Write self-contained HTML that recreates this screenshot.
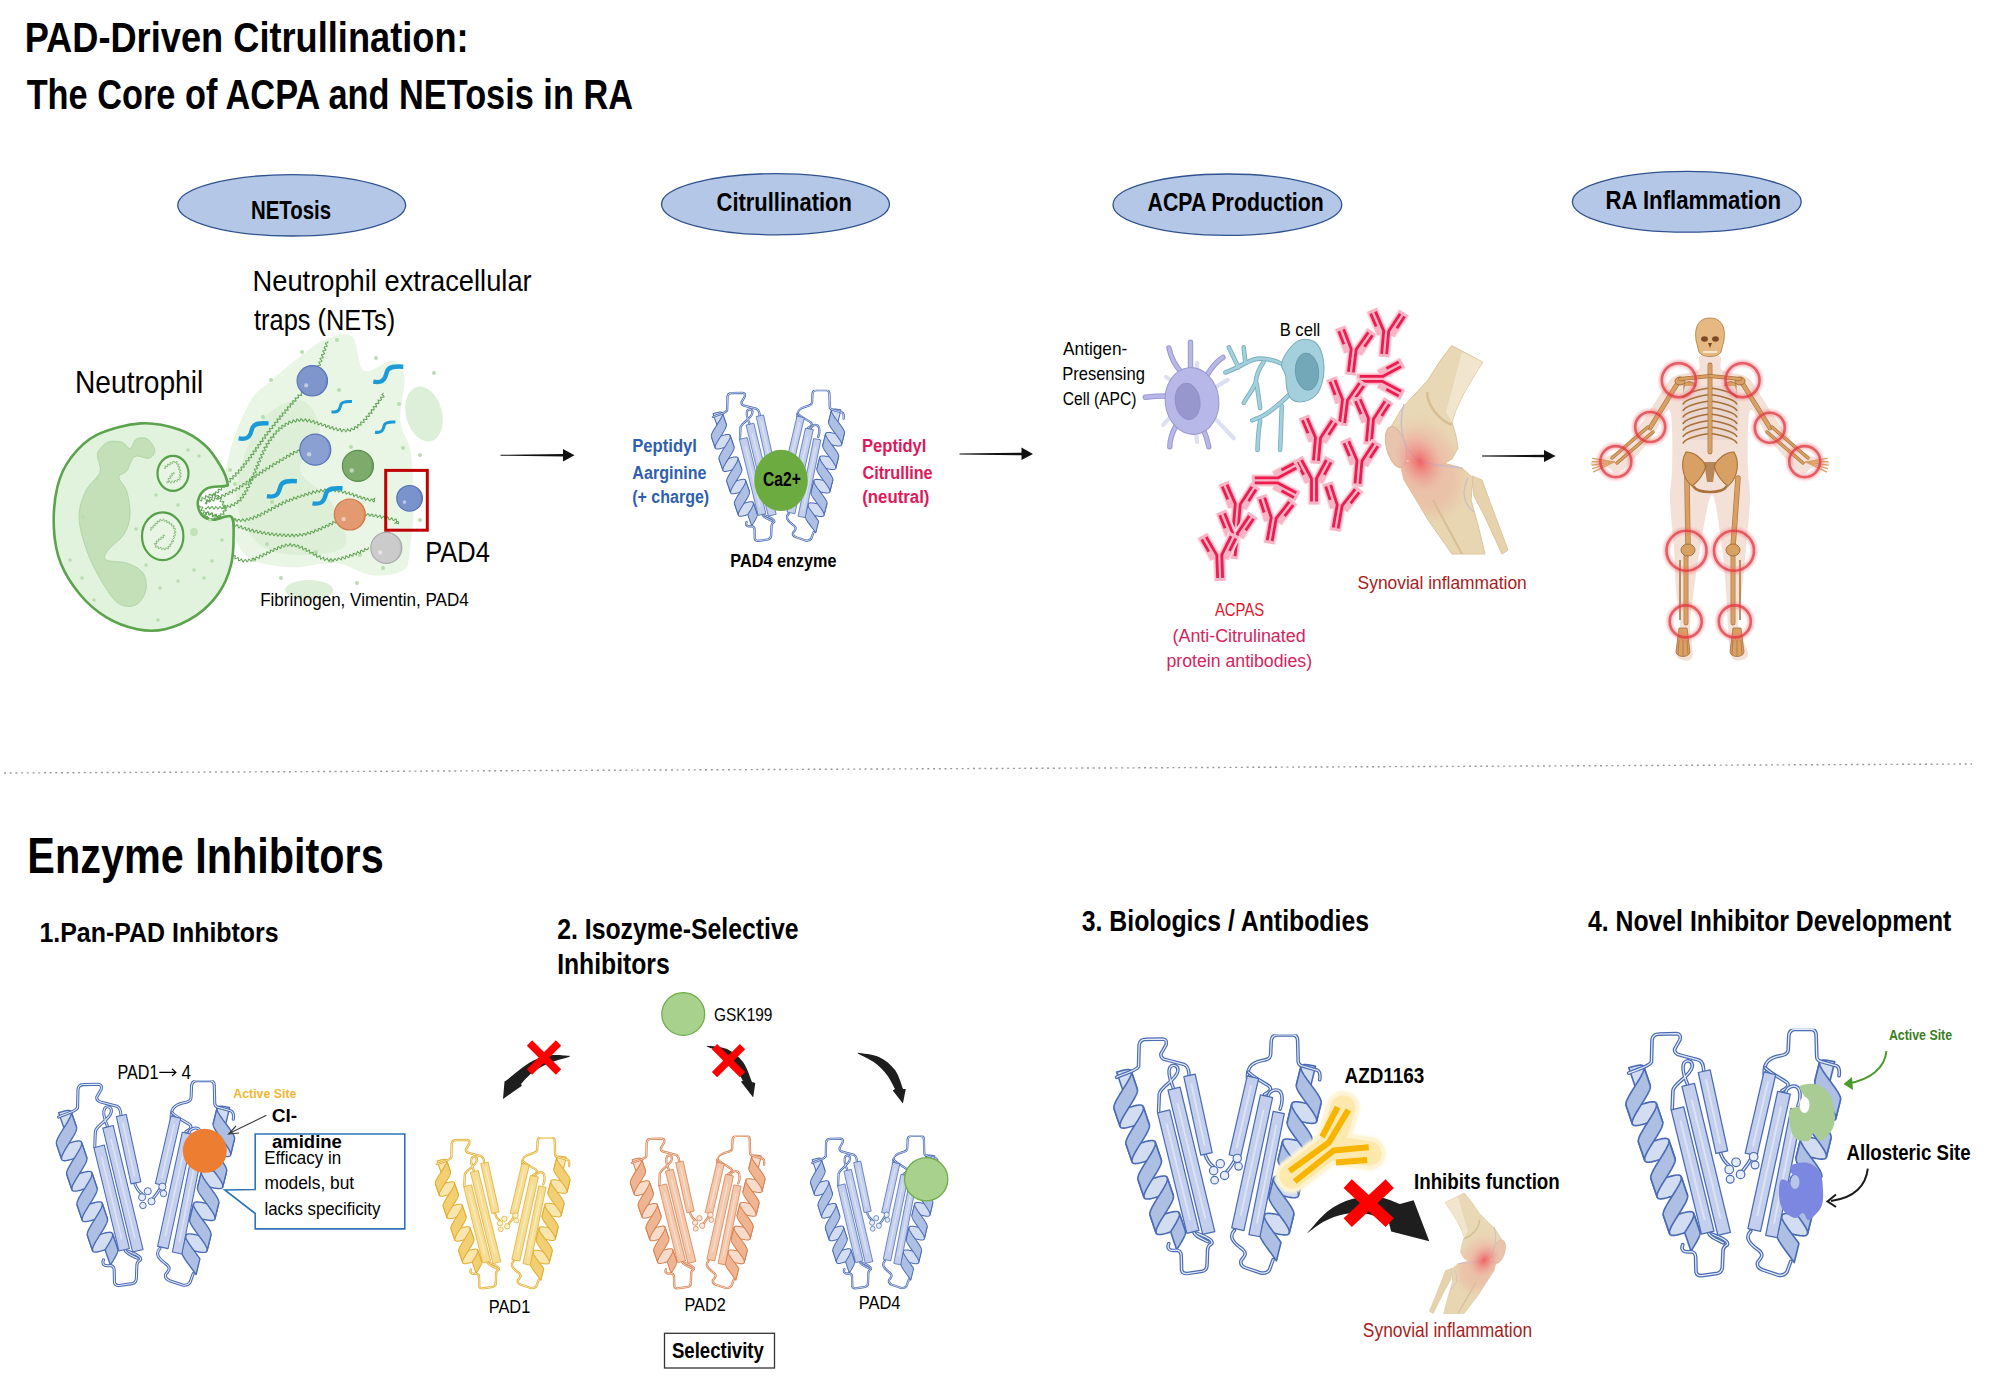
<!DOCTYPE html>
<html><head><meta charset="utf-8"><style>
html,body{margin:0;padding:0;background:#fff;width:2000px;height:1382px;overflow:hidden}
svg{display:block;font-family:"Liberation Sans",sans-serif}
</style></head><body>
<svg width="2000" height="1382" viewBox="0 0 2000 1382">
<ellipse cx="291.7" cy="205.3" rx="114" ry="30.7" fill="#b4c7e7" stroke="#2f528f" stroke-width="1.3"/>
<ellipse cx="775.5" cy="204.2" rx="114" ry="30.6" fill="#b4c7e7" stroke="#2f528f" stroke-width="1.3"/>
<ellipse cx="1227.4" cy="204.7" rx="114.4" ry="30.7" fill="#b4c7e7" stroke="#2f528f" stroke-width="1.3"/>
<ellipse cx="1686.8" cy="201.8" rx="114.4" ry="30.4" fill="#b4c7e7" stroke="#2f528f" stroke-width="1.3"/>
<path d="M500.5,454.85 L564,453.95 L564,456.55 L500.5,455.65 Z" fill="#111"/><path d="M563,449 L574.5,455.25 L563,461.5 Z" fill="#111"/>
<path d="M959.5,453.6 L1022.5,452.7 L1022.5,455.3 L959.5,454.4 Z" fill="#111"/><path d="M1021.5,447.5 L1033,454 L1021.5,460 Z" fill="#111"/>
<path d="M1482,455.6 L1545,454.7 L1545,457.3 L1482,456.4 Z" fill="#111"/><path d="M1544,450 L1555.5,456 L1544,462 Z" fill="#111"/>
<line x1="4" y1="773" x2="1972" y2="764" stroke="#9a9a9a" stroke-width="1.4" stroke-dasharray="2 3.7"/>
<path d="M230.3,449.7 C235.0,432.8 243.8,412.5 250.5,401.0 C257.2,389.5 263.4,387.6 270.8,380.8 C278.2,374.1 286.2,367.2 295.0,360.5 C303.8,353.8 314.0,344.4 323.5,340.3 C333.0,336.2 345.1,331.1 351.8,336.2 C358.6,341.2 357.2,366.6 364.0,370.6 C370.8,374.7 385.6,359.5 392.3,360.5 C399.1,361.5 403.1,366.6 404.5,376.7 C405.9,386.8 399.4,408.8 400.4,421.3 C401.4,433.8 408.3,438.2 410.6,451.7 C412.9,465.2 414.0,487.1 414.0,502.3 C414.0,517.5 412.2,531.8 410.6,542.9 C409.0,554.0 410.9,563.8 404.5,569.2 C398.1,574.6 383.5,576.3 372.0,575.3 C360.5,574.3 349.1,564.5 335.6,563.1 C322.1,561.8 305.2,567.9 291.0,567.2 C276.8,566.5 260.3,564.8 250.5,559.0 C240.7,553.2 237.0,542.2 232.3,532.7 C227.6,523.2 222.5,516.1 222.2,502.3 C221.9,488.5 225.6,466.6 230.3,449.7 Z" fill="#e9f6e6"/>
<path d="M240.0,470.0 C244.0,455.0 252.0,431.7 262.0,420.0 C272.0,408.3 290.3,398.3 300.0,400.0 C309.7,401.7 320.0,418.3 320.0,430.0 C320.0,441.7 298.3,458.3 300.0,470.0 C301.7,481.7 322.5,487.5 330.0,500.0 C337.5,512.5 350.0,535.8 345.0,545.0 C340.0,554.2 314.2,555.0 300.0,555.0 C285.8,555.0 270.3,552.5 260.0,545.0 C249.7,537.5 241.3,522.5 238.0,510.0 C234.7,497.5 236.0,485.0 240.0,470.0 Z" fill="#d9eed3" opacity="0.8"/>
<ellipse cx="424" cy="414" rx="18" ry="28" fill="#ddefd8" transform="rotate(-15 424 414)"/>
<ellipse cx="309" cy="590" rx="24" ry="10" fill="#ddefd8"/>
<circle cx="271" cy="380" r="2" fill="#b9dcb0"/>
<circle cx="263" cy="417" r="2" fill="#b9dcb0"/>
<circle cx="235" cy="484" r="2" fill="#b9dcb0"/>
<circle cx="302" cy="352" r="2" fill="#b9dcb0"/>
<circle cx="337" cy="340" r="2" fill="#b9dcb0"/>
<circle cx="376" cy="358" r="2" fill="#b9dcb0"/>
<circle cx="434" cy="373" r="2" fill="#b9dcb0"/>
<circle cx="399" cy="404" r="2" fill="#b9dcb0"/>
<circle cx="403" cy="448" r="2" fill="#b9dcb0"/>
<circle cx="351" cy="447" r="2" fill="#b9dcb0"/>
<circle cx="339" cy="390" r="2" fill="#b9dcb0"/>
<circle cx="360" cy="555" r="2" fill="#b9dcb0"/>
<circle cx="267" cy="544" r="2" fill="#b9dcb0"/>
<circle cx="331" cy="561" r="2" fill="#b9dcb0"/>
<circle cx="281" cy="578" r="2" fill="#b9dcb0"/>
<circle cx="357" cy="583" r="2" fill="#b9dcb0"/>
<circle cx="316" cy="552" r="2" fill="#b9dcb0"/>
<circle cx="420" cy="455" r="2" fill="#b9dcb0"/>
<circle cx="230" cy="470" r="2" fill="#b9dcb0"/>
<circle cx="272" cy="502" r="2" fill="#b9dcb0"/>
<circle cx="254" cy="560" r="2" fill="#b9dcb0"/>
<circle cx="383" cy="568" r="2" fill="#b9dcb0"/>
<circle cx="420" cy="520" r="2" fill="#b9dcb0"/>
<circle cx="300" cy="597" r="2" fill="#b9dcb0"/>
<circle cx="235" cy="520" r="2" fill="#b9dcb0"/>
<path d="M205.0,503.0 L206.8,503.0 L206.2,500.1 L207.4,500.1 L209.2,500.7 L209.7,499.9 L209.2,497.9 L210.0,497.3 L212.2,498.1 L212.6,496.9 L212.2,494.7 L214.0,495.0 L215.7,495.1 L215.4,493.5 L215.2,492.0 L216.3,492.1 L218.1,492.8 L218.7,492.2 L218.2,490.3 L218.4,489.2 L220.1,489.7 L221.6,490.0 L221.5,488.6 L221.1,486.8 L222.2,486.7 L224.1,487.4 L224.6,486.6 L224.0,484.6 L224.6,483.8 L226.5,484.5 L227.6,484.3 L227.1,482.4 L227.1,481.1 L228.9,481.6 L230.4,481.8 L230.2,480.2 L229.8,478.5 L231.1,478.6 L233.0,479.1 L233.3,478.1 L232.6,476.2 L233.3,475.6 L235.2,476.2 L236.2,475.9 L235.7,474.1 L235.5,472.8 L237.0,473.0 L238.7,473.4 L238.9,472.4 L238.2,470.6 L238.5,469.8 L240.2,470.2 L241.6,470.3 L241.5,469.1 L240.8,467.4 L241.3,466.8 L243.1,467.2 L244.3,467.1 L243.9,465.7 L243.3,464.1 L244.2,463.8 L246.1,464.2 L246.8,463.7 L246.1,462.1 L245.8,460.8 L247.2,460.8 L249.0,461.0 L249.2,460.1 L248.3,458.3 L248.5,457.5 L250.3,457.7 L251.7,457.6 L251.3,456.3 L250.5,454.7 L251.5,454.3 L253.4,454.6 L254.1,454.0 L253.2,452.4 L253.0,451.1 L254.5,451.1 L256.2,451.3 L256.2,450.2 L255.3,448.5 L255.7,447.7 L257.6,448.0 L258.7,447.8 L258.2,446.4 L257.5,444.8 L258.5,444.5 L260.4,444.8 L261.0,444.2 L260.2,442.6 L259.9,441.4 L261.3,441.3 L263.0,441.5 L263.3,440.7 L262.4,439.0 L262.4,438.0 L263.9,438.1 L265.5,438.3 L265.5,437.3 L264.7,435.7 L264.8,434.7 L267.2,435.1 L267.9,434.1 L266.9,431.9 L268.4,431.6 L270.4,431.7 L269.7,429.8 L269.7,428.3 L272.0,428.7 L272.9,428.1 L271.9,425.9 L272.8,425.2 L275.1,425.6 L275.1,424.3 L274.4,422.3 L276.0,422.3 L277.9,422.4 L277.3,420.6 L277.1,419.0 L279.0,419.3 L280.5,419.1 L279.7,417.2 L279.7,415.9 L281.8,416.3 L283.0,416.0 L282.2,414.0 L282.3,412.8 L284.3,413.2 L285.6,413.0 L284.9,411.1 L284.8,409.8 L286.6,410.1 L288.1,410.1 L287.7,408.6 L287.2,406.9 L288.5,406.8 L290.4,407.2 L290.6,406.3 L289.9,404.4 L290.3,403.6 L292.1,404.1 L293.3,404.0 L293.0,402.6 L292.4,401.0 L293.3,400.7 L295.1,401.1 L296.0,400.9 L295.1,398.0 L297.3,398.1 L298.6,397.6 L298.0,395.0 L299.9,395.2 L301.6,395.5 L301.2,393.3 L301.7,392.2 L303.8,393.1 L304.7,392.5 L304.2,390.3 L305.1,389.8 L307.3,390.5 L307.5,389.1 L306.9,387.0 L309.2,387.2 L310.3,386.4 L309.2,384.0 L312.0,383.9 L312.7,383.3 L311.7,381.9 L311.2,380.5 L312.7,380.3 L314.5,380.1 L313.8,378.6 L312.9,377.0 L314.9,376.7 L316.2,376.0 L314.7,374.1 L314.6,373.2 L316.3,373.0 L317.7,372.7 L317.3,371.6 L316.0,370.2 L316.4,369.5 L318.3,369.3 L319.3,368.7 L318.2,367.4 L317.3,366.1 L318.6,365.6 L320.4,365.3 L320.3,364.4 L318.9,362.9 L319.1,362.0 L321.0,361.8 L322.0,361.2 L320.9,359.8 L320.0,358.6 L321.3,358.1 L323.1,357.8 L323.0,356.8 L321.7,355.4 L321.6,354.5 L323.4,354.2 L324.7,353.8 L324.0,352.7 L322.8,351.4 L323.1,350.7 L324.9,350.4 L325.9,349.6 L324.2,347.8 L324.7,346.8 L327.0,346.5 L326.9,345.4 L325.4,343.9 L325.8,343.1 L327.7,342.8 L327.9,341.3" fill="none" stroke="#62a456" stroke-width="1.05"/>
<path d="M205.0,503.0 L206.3,503.9 L206.8,502.4 L207.4,500.5 L209.4,502.1 L210.5,501.2 L211.3,499.1 L213.8,501.0 L214.3,499.9 L214.4,498.0 L215.3,497.8 L216.7,499.1 L217.8,499.3 L218.0,497.5 L218.4,496.1 L219.8,497.0 L221.2,498.0 L221.7,496.6 L221.9,494.7 L223.1,495.1 L224.7,496.4 L225.3,495.5 L225.5,493.4 L226.4,493.2 L228.1,494.6 L229.0,494.2 L229.0,492.1 L229.7,491.4 L231.3,492.5 L232.5,492.8 L232.6,491.1 L232.8,489.6 L234.1,490.1 L235.6,491.1 L236.2,490.3 L236.0,488.4 L236.6,487.6 L238.2,488.6 L239.4,489.0 L239.6,487.6 L239.5,485.8 L240.5,485.8 L242.2,486.8 L243.0,486.5 L242.8,484.6 L243.1,483.4 L244.6,484.0 L246.1,484.7 L246.3,483.4 L246.1,481.5 L247.0,481.3 L248.8,482.2 L249.6,481.9 L249.4,480.0 L249.6,478.8 L251.2,479.5 L252.7,480.0 L252.8,478.6 L252.6,476.7 L253.8,476.8 L255.5,477.7 L256.2,477.0 L255.9,474.9 L256.5,474.2 L258.3,475.2 L259.4,475.2 L259.2,473.3 L259.5,471.9 L261.1,472.6 L262.6,473.2 L262.7,471.6 L262.7,469.8 L264.0,470.2 L265.7,471.1 L266.1,469.9 L266.0,467.9 L267.2,468.0 L269.1,469.0 L269.5,467.7 L269.5,465.6 L271.0,466.1 L272.7,466.9 L272.8,464.9 L273.2,463.4 L275.2,464.5 L276.3,464.3 L276.2,461.9 L277.3,461.6 L279.3,462.8 L279.7,461.2 L279.8,459.3 L281.7,460.2 L283.1,460.4 L283.0,458.1 L283.9,457.3 L285.9,458.6 L286.6,457.7 L286.6,455.4 L287.9,455.6 L289.7,456.7 L290.1,455.3 L290.2,453.3 L291.5,453.8 L293.2,454.8 L293.6,453.6 L293.6,451.6 L294.6,451.6 L296.2,452.8 L297.1,452.6 L297.1,450.9 L298.5,450.0 L300.5,451.3 L301.0,448.7 L302.2,448.5 L303.7,450.2 L304.6,449.1 L305.4,447.2 L306.4,448.0 L307.3,449.7 L308.1,449.6 L309.0,448.0 L310.0,447.4 L310.5,448.3 L310.8,449.9 L311.3,450.5 L312.0,450.1 L312.9,449.1 L313.6,448.4 L314.0,448.5 L314.3,449.3 L314.6,450.2" fill="none" stroke="#62a456" stroke-width="1.05"/>
<path d="M205.0,508.0 L206.1,509.2 L207.1,507.5 L208.4,506.6 L209.8,509.1 L211.4,506.9 L212.3,506.5 L213.1,508.0 L213.9,509.2 L214.9,508.1 L215.8,506.5 L216.7,507.3 L217.7,509.1 L218.7,508.5 L219.6,506.6 L220.6,507.0 L221.7,508.9 L222.7,508.3 L223.5,506.2 L224.6,506.7 L225.9,508.4 L226.8,507.4 L227.4,505.4 L228.7,506.3 L230.2,507.5 L230.8,505.8 L231.3,504.2 L232.9,505.3 L234.3,505.8 L234.4,503.6 L235.0,502.5 L237.1,503.7 L237.9,502.9 L237.5,500.7 L239.0,500.6 L241.1,500.9 L240.8,499.6 L240.2,498.0 L240.8,497.5 L242.8,497.9 L243.7,497.4 L242.8,495.7 L242.6,494.4 L244.6,494.5 L246.0,494.1 L244.9,492.3 L244.7,491.0 L246.9,491.0 L247.9,490.6 L247.1,489.2 L246.3,487.8 L247.2,487.4 L249.2,487.4 L249.6,486.6 L248.5,485.1 L248.1,484.0 L249.9,483.8 L251.4,483.5 L250.7,482.2 L249.7,480.7 L250.7,480.2 L252.7,480.0 L252.8,479.0 L251.4,477.4 L251.8,476.5 L253.9,476.4 L254.5,475.6 L253.2,474.0 L253.1,472.9 L255.1,472.7 L256.2,472.1 L254.9,470.6 L254.4,469.3 L256.3,469.1 L257.7,468.6 L256.7,467.1 L255.8,465.8 L257.5,465.4 L259.2,465.0 L258.4,463.7 L257.3,462.2 L258.6,461.7 L260.5,461.5 L260.3,460.4 L259.0,458.8 L259.6,458.0 L261.7,457.9 L262.2,457.2 L260.9,455.6 L260.7,454.5 L262.5,454.3 L263.9,454.0 L263.2,452.7 L262.2,451.3 L263.0,450.7 L264.9,450.7 L265.6,450.1 L264.6,448.7 L263.9,447.4 L265.1,447.1 L267.2,447.1 L266.9,445.7 L265.9,443.9 L267.2,443.6 L269.1,443.7 L269.0,442.5 L268.1,440.8 L268.6,440.1 L270.6,440.4 L271.6,440.2 L271.0,438.8 L270.4,437.2 L272.1,437.1 L274.0,437.1 L273.3,435.1 L273.4,433.7 L275.5,434.2 L276.5,433.7 L275.8,431.7 L276.2,430.7 L278.2,431.3 L279.2,431.0 L278.7,429.1 L278.8,427.8 L280.4,428.3 L281.9,428.8 L282.0,427.5 L281.7,425.6 L282.5,425.3 L284.1,426.2 L285.2,426.3 L285.2,424.8 L285.2,423.2 L286.2,423.2 L287.7,424.3 L288.5,424.4 L288.7,422.7 L289.0,421.2 L290.1,421.7 L291.4,423.0 L292.2,422.8 L292.6,420.9 L293.2,419.9 L294.4,421.0 L295.6,422.2 L296.3,421.0 L296.9,419.1 L298.0,419.7 L299.2,421.4 L300.0,420.7 L301.0,418.7 L302.1,419.4 L303.1,421.3 L304.3,420.0 L305.6,418.8 L306.5,420.9 L307.2,421.8 L308.2,420.6 L309.4,419.4 L310.0,420.2 L310.5,422.1 L311.3,422.4 L312.6,421.0 L313.7,420.5 L314.1,422.2 L314.6,423.7 L315.9,422.7 L317.2,421.6 L317.8,422.8 L318.2,424.7 L319.3,424.3 L320.8,422.9 L321.6,423.7 L321.9,425.8 L322.9,425.8 L324.4,424.3 L325.3,424.7 L325.6,426.8 L326.5,427.3 L328.0,425.8 L329.0,425.7 L329.4,427.8 L330.1,428.7 L331.5,427.3 L332.7,426.7 L333.1,428.5 L333.7,429.9 L334.9,428.9 L336.2,427.7 L336.8,428.7 L337.3,430.6 L338.3,430.5 L339.4,429.0 L340.4,428.6 L340.9,430.3 L341.6,431.6 L342.5,430.9 L343.4,429.3 L344.6,429.8 L345.8,431.9 L346.8,430.5 L347.7,429.0 L349.0,430.5 L350.4,431.3 L350.8,429.2 L351.5,428.2 L353.2,429.6 L354.5,429.5 L354.4,427.1 L355.4,426.7 L357.5,427.9 L357.9,426.5 L357.8,424.4 L359.8,425.0 L361.2,424.9 L360.6,422.5 L361.0,421.8 L362.7,422.3 L364.1,422.5 L364.0,421.3 L363.4,419.6 L363.9,419.0 L365.6,419.4 L366.9,419.5 L366.7,418.2 L366.0,416.6 L366.6,416.0 L368.4,416.4 L369.5,416.3 L369.1,414.9 L368.5,413.4 L370.0,413.1 L372.0,413.1 L371.2,411.0 L371.4,409.7 L373.8,410.1 L374.2,409.0 L373.2,406.9 L374.6,406.6 L376.6,406.8 L376.3,405.4 L375.5,403.6 L376.7,403.3 L378.6,403.6 L379.0,402.9 L378.1,400.1 L380.6,400.5 L381.5,399.7 L380.6,397.7 L381.0,397.0 L382.7,397.2 L383.9,397.1 L384.0,396.5 L383.5,395.7 L382.8,395.1 L382.3,394.8 L382.0,394.7 L382.0,394.7 L382.1,394.6 L382.3,394.5 L382.5,394.3 L382.6,394.0 L382.9,393.7 L383.1,393.4 L383.4,393.3 L383.6,393.4" fill="none" stroke="#62a456" stroke-width="1.05"/>
<path d="M205.0,512.0 L205.7,513.6 L207.6,511.8 L208.8,512.9 L209.2,514.5 L210.1,514.4 L211.5,512.9 L212.4,513.0 L212.8,515.1 L213.5,515.9 L215.1,514.4 L216.2,514.2 L216.6,516.5 L217.6,516.9 L219.3,515.2 L220.2,516.0 L220.7,518.2 L222.2,517.3 L223.7,516.2 L224.3,518.5 L225.3,519.1 L227.0,517.3 L228.0,518.4 L228.8,520.3 L230.3,518.7 L231.5,518.3 L232.4,520.7 L233.7,520.2 L235.0,518.5 L236.0,520.3 L237.1,521.4 L238.4,519.3 L239.5,519.4 L240.7,521.6 L241.7,520.6 L242.7,518.8 L243.9,520.2 L245.2,521.4 L246.0,519.4 L246.8,518.4 L248.4,520.2 L249.6,520.0 L250.1,517.6 L251.4,518.1 L253.1,519.3 L253.6,517.2 L254.0,516.0 L255.1,516.7 L256.5,517.8 L257.2,517.4 L257.3,515.5 L257.7,514.5 L259.0,515.3 L260.4,516.2 L260.9,515.4 L260.9,513.4 L261.6,512.8 L263.1,513.9 L264.3,514.4 L264.5,512.9 L264.6,511.2 L265.6,511.3 L267.2,512.5 L268.0,512.1 L268.0,510.2 L268.4,509.1 L269.9,510.0 L271.2,510.7 L271.6,509.4 L271.5,507.6 L272.4,507.4 L274.1,508.5 L275.0,508.5 L275.0,506.7 L275.3,505.3 L276.6,505.9 L278.1,506.9 L278.6,506.1 L278.6,504.1 L279.2,503.5 L280.6,504.5 L281.9,505.1 L282.2,503.8 L282.2,502.0 L283.0,501.8 L284.4,502.9 L285.5,503.3 L285.8,501.9 L286.2,500.0 L288.0,501.3 L289.3,501.5 L289.6,499.0 L290.8,499.0 L292.6,500.5 L293.2,499.1 L293.7,497.2 L295.3,498.3 L296.7,499.0 L297.1,496.8 L297.9,495.9 L299.6,497.5 L300.7,497.2 L301.0,494.9 L302.1,494.9 L303.8,496.5 L304.5,495.4 L305.0,493.4 L306.3,494.0 L307.8,495.3 L308.4,493.9 L308.9,492.1 L310.3,493.1 L311.7,494.2 L312.3,492.5 L312.9,491.0 L314.3,492.2 L315.5,493.2 L316.2,491.5 L316.9,490.1 L318.2,491.4 L319.4,492.4 L320.1,490.7 L320.9,489.3 L322.1,490.6 L323.2,491.8 L324.0,490.3 L324.9,488.8 L326.0,490.2 L327.1,491.5 L328.0,490.1 L329.0,488.6 L330.0,490.0 L331.0,491.4 L332.0,490.0 L333.2,488.8 L334.1,490.6 L335.1,491.7 L336.5,489.8 L337.6,489.7 L338.3,492.0 L339.6,491.6 L341.1,490.0 L341.9,491.8 L342.8,493.2 L344.5,491.3 L345.6,491.7 L346.2,494.1 L347.7,493.1 L349.2,492.2 L349.7,494.5 L350.8,495.0 L352.6,493.3 L353.4,494.6 L353.9,496.5 L355.5,495.3 L356.9,494.7 L357.3,496.9 L358.2,497.6 L359.9,496.0 L360.9,496.4 L361.2,498.5 L362.2,498.8 L363.6,497.3 L364.6,497.4 L364.9,499.2 L365.5,500.3 L367.7,498.2 L368.7,500.0 L369.8,501.2 L371.1,499.3 L372.0,499.1 L372.7,500.5 L373.4,501.6 L374.1,501.6 L374.5,501.0 L374.6,500.2 L374.4,499.7 L374.1,499.4 L373.9,499.4 L373.7,499.4 L373.7,499.4 L373.7,499.3 L373.9,499.1 L374.2,498.8 L374.5,498.5 L374.8,498.3 L375.1,498.3 L375.2,498.5" fill="none" stroke="#62a456" stroke-width="1.05"/>
<path d="M205.0,515.0 L204.4,516.4 L205.3,516.7 L207.4,516.5 L207.8,517.5 L206.5,519.6 L207.9,520.1 L209.7,520.0 L209.9,520.9 L208.8,522.5 L209.0,523.5 L211.0,523.4 L212.1,523.8 L211.1,525.6 L210.8,526.9 L212.8,526.9 L214.1,527.3 L213.0,529.2 L213.1,530.4 L214.9,530.3 L216.1,530.5 L215.6,531.8 L214.7,533.3 L215.4,533.9 L217.3,533.7 L218.2,534.1 L217.4,535.6 L216.8,537.0 L218.1,537.2 L219.9,537.1 L220.2,537.9 L219.2,539.6 L219.2,540.6 L221.0,540.5 L222.4,540.5 L222.1,541.8 L221.2,543.4 L222.0,544.0 L223.9,543.7 L224.8,544.1 L224.1,545.7 L223.6,547.0 L224.9,547.2 L226.7,546.8 L227.1,547.5 L226.3,549.2 L226.2,550.4 L228.3,550.1 L229.7,550.3 L228.9,552.4 L229.2,553.5 L231.3,552.9 L232.3,553.2 L231.7,555.3 L232.0,556.4 L233.9,555.7 L235.2,555.5 L235.0,557.2 L235.0,558.9 L236.2,558.6 L237.8,557.6 L238.3,558.1 L238.5,560.6 L239.9,560.5 L241.4,558.9 L242.2,560.6 L243.2,562.0 L244.4,560.2 L245.6,559.7 L247.0,561.9 L247.7,561.6 L248.3,559.9 L248.9,559.0 L250.0,560.0 L251.2,561.3 L251.9,560.5 L252.2,558.5 L253.0,558.2 L254.4,559.5 L255.5,559.9 L255.8,558.0 L256.2,556.7 L257.7,557.6 L259.1,558.5 L259.5,557.1 L259.7,555.2 L261.0,555.7 L262.6,556.9 L263.1,555.7 L263.2,553.6 L264.4,553.9 L266.1,555.1 L266.7,554.0 L266.8,551.9 L267.9,552.0 L269.7,553.3 L270.3,552.3 L270.3,550.2 L271.4,550.2 L273.1,551.5 L273.9,550.8 L273.9,548.6 L274.9,548.3 L276.5,549.7 L277.4,549.5 L277.6,547.4 L278.2,546.5 L279.7,547.7 L280.8,548.4 L281.3,546.8 L281.6,545.2 L282.7,545.6 L284.0,547.0 L284.8,546.9 L285.2,545.0 L285.9,544.0 L286.9,545.0 L287.8,546.3 L288.9,545.5 L290.1,543.6 L291.1,545.2 L292.0,546.4 L293.4,544.7 L294.7,544.3 L295.3,546.6 L296.3,546.7 L297.9,545.0 L298.8,546.0 L299.2,548.2 L300.7,547.4 L302.3,546.4 L302.6,548.5 L303.2,549.8 L305.1,548.4 L306.2,548.7 L306.2,551.2 L307.4,551.2 L309.4,550.0 L309.7,551.7 L309.9,553.5 L311.8,552.5 L313.2,552.3 L313.1,554.7 L314.0,555.3 L316.0,554.0 L316.7,555.0 L316.7,557.2 L318.2,556.8 L319.9,555.7 L320.2,557.4 L320.7,559.1 L322.2,558.1 L323.6,557.3 L324.0,559.2 L324.7,560.5 L326.1,559.1 L327.3,558.3 L328.0,560.1 L328.9,561.3 L330.0,559.7 L331.0,558.6 L332.1,560.4 L333.2,561.2 L334.1,559.2 L335.1,558.6 L336.6,560.6 L337.6,560.0 L338.3,557.8 L339.8,558.9 L341.3,559.9 L341.7,558.4 L342.1,556.9 L343.0,557.2 L344.3,558.6 L345.2,558.8 L345.6,557.2 L346.0,555.8 L346.9,556.2 L348.2,557.5 L349.1,557.5 L349.4,555.8 L349.7,554.5 L350.8,555.0 L352.1,556.2 L352.9,556.1 L353.2,553.5 L354.5,553.5 L356.3,554.9 L356.8,553.1 L357.4,551.6 L359.2,552.9 L360.4,553.1 L360.6,550.8 L361.5,550.2 L363.2,551.6 L364.1,551.5 L364.3,549.4 L364.9,548.5 L366.2,549.6 L367.9,549.5 L368.5,547.0" fill="none" stroke="#62a456" stroke-width="1.05"/>
<path d="M205.0,512.0 L205.7,513.6 L208.2,511.9 L208.7,513.0 L208.8,514.9 L209.8,515.0 L211.5,513.6 L212.3,514.4 L212.4,516.7 L213.9,516.3 L215.6,515.2 L215.9,516.4 L216.0,518.2 L216.8,518.5 L218.2,517.4 L219.3,516.9 L219.6,518.4 L219.8,520.1 L220.8,519.9 L222.3,518.6 L223.2,519.0 L223.3,521.0 L223.9,521.9 L225.4,520.7 L226.6,520.1 L226.9,521.8 L227.2,523.4 L228.5,522.8 L230.0,521.6 L230.6,522.7 L230.8,524.7 L231.8,524.7 L233.4,523.3 L234.2,523.7 L234.4,525.8 L235.2,526.4 L236.7,525.0 L237.8,524.8 L238.1,526.7 L238.6,527.9 L240.0,526.9 L241.3,525.9 L241.8,527.2 L242.2,529.1 L243.2,528.8 L244.6,527.4 L245.4,527.6 L245.7,529.5 L246.4,530.4 L247.6,529.3 L248.7,528.3 L249.4,529.2 L249.8,531.0 L250.5,531.3 L251.7,530.0 L252.7,529.2 L253.3,530.4 L253.8,532.1 L254.6,532.1 L255.8,530.6 L256.8,530.2 L257.3,531.7 L257.9,533.2 L258.9,532.5 L260.1,531.0 L260.9,531.3 L261.4,533.2 L262.2,533.9 L263.3,532.7 L264.3,531.6 L265.0,532.7 L265.6,534.4 L266.5,534.3 L267.7,532.7 L268.6,532.4 L269.2,534.1 L269.9,535.3 L271.0,534.2 L272.0,532.8 L272.8,533.5 L273.5,535.4 L274.3,535.6 L275.4,534.0 L276.3,533.3 L277.0,534.8 L277.8,536.2 L278.7,535.5 L279.7,533.9 L280.6,534.0 L281.3,535.8 L282.1,536.5 L283.0,535.2 L284.0,533.9 L284.8,534.7 L285.5,536.5 L286.4,536.5 L287.3,534.9 L288.1,534.1 L288.9,535.3 L289.7,536.8 L290.6,536.4 L291.4,534.7 L292.2,534.1 L293.0,535.4 L294.2,536.8 L295.3,534.6 L296.5,534.4 L297.8,536.5 L298.9,535.4 L299.8,533.6 L301.2,535.2 L302.5,535.9 L303.2,533.6 L304.3,533.4 L305.9,535.2 L306.8,534.0 L307.5,532.1 L309.1,533.5 L310.4,534.0 L310.9,531.5 L312.0,531.4 L313.8,532.9 L314.5,531.3 L315.0,529.6 L316.8,531.0 L318.1,531.0 L318.3,528.5 L319.6,528.6 L321.4,529.9 L321.9,528.2 L322.3,526.5 L324.2,527.8 L325.4,527.8 L325.5,525.5 L326.5,525.0 L328.4,526.4 L329.1,525.5 L329.2,523.3 L330.5,523.6 L332.2,524.8 L332.7,523.6 L332.9,521.5 L334.1,521.9 L335.7,523.1 L336.3,522.3 L336.5,520.3 L337.2,519.8 L338.7,521.1 L339.7,521.6 L340.1,520.2 L341.0,518.5 L343.2,520.2 L343.8,518.2 L344.5,516.9 L346.4,518.4 L347.4,518.1 L347.5,516.0 L348.2,515.3 L349.7,516.5 L350.8,517.0 L351.1,515.5 L351.5,513.9 L352.5,514.1 L353.7,515.6 L354.6,515.6 L355.3,513.6 L356.3,513.0 L357.5,515.0 L358.7,514.7 L360.0,512.6 L361.4,514.9 L363.1,514.0 L364.0,512.8 L364.8,513.8 L365.5,515.6 L366.5,515.3 L367.7,513.5 L368.6,513.8 L369.3,515.9 L370.3,515.9 L371.6,514.1 L372.6,514.4 L373.3,516.6 L374.4,516.3 L375.8,514.6 L376.7,515.5 L377.4,517.5 L378.6,516.7 L380.0,515.2 L380.8,516.6 L381.5,518.3 L382.7,517.2 L384.0,516.0 L384.7,517.5 L385.3,519.1 L386.5,518.3 L387.7,516.9 L388.4,517.7 L388.9,519.5 L389.7,519.9 L391.8,517.7 L392.7,520.0 L393.8,520.6 L395.3,519.0 L396.2,519.2 L396.4,520.8 L396.3,521.8 L396.5,522.0 L396.9,521.8 L397.5,521.6 L398.1,521.7 L398.5,522.1 L398.7,522.7 L398.7,523.2 L398.5,523.6 L398.1,523.7 L397.5,523.6 L396.9,523.3 L396.3,522.9 L395.8,522.7 L395.3,522.7 L394.9,523.0 L394.6,523.7" fill="none" stroke="#62a456" stroke-width="1.05"/>
<path d="M200.0,500.0 L200.8,500.7 L201.5,500.9 L201.8,500.0 L201.8,498.4 L202.2,497.4 L203.5,498.2 L205.0,499.0 L205.4,497.8 L205.5,495.8 L206.6,496.0 L208.2,497.3 L208.9,496.5 L209.2,494.5 L210.1,494.2 L211.4,495.7 L212.2,496.1 L212.9,494.7 L213.8,493.4 L214.6,493.8 L214.8,495.3 L214.9,496.5 L215.9,496.3 L217.7,495.4 L218.5,496.0 L217.8,498.1 L218.3,498.9 L220.6,498.3 L221.2,499.3 L220.2,501.4 L221.5,501.8 L223.7,501.8 L223.1,503.3 L222.3,504.9 L224.0,505.2 L225.7,505.7 L224.9,506.9 L223.6,508.0 L224.2,508.7 L225.7,509.4 L226.3,510.4 L225.5,511.0 L223.8,510.9 L223.0,511.2 L223.7,512.8 L223.9,514.4 L222.1,514.1 L220.5,513.8 L220.8,515.9 L220.4,517.3 L218.3,516.1 L217.3,516.7 L217.4,519.1 L216.1,519.0 L214.4,517.8 L213.9,519.0 L213.4,521.0 L212.3,520.6 L211.4,519.1 L210.8,518.8 L210.1,519.8 L208.8,520.7 L208.0,520.5 L208.2,518.9 L208.6,517.5 L207.2,517.4 L205.2,517.6 L205.5,516.1 L206.4,514.4 L204.5,514.2 L202.9,513.7 L204.2,511.8 L204.0,510.7 L201.6,510.6 L201.4,509.5 L202.7,507.8 L202.1,507.0 L200.2,507.0 L199.4,506.7 L199.9,505.7" fill="none" stroke="#62a456" stroke-width="1.05"/>
<path d="M140.7,423.4 C154.3,422.5 168.2,425.9 178.9,429.5 C189.6,433.1 198.1,439.1 205.0,445.2 C211.9,451.3 216.8,459.6 220.6,466.0 C224.4,472.4 227.0,480.1 227.6,483.4 C228.2,486.7 227.6,485.1 224.1,486.0 C220.6,486.9 211.0,486.2 206.7,488.6 C202.3,491.1 198.9,496.4 198.0,500.7 C197.1,505.0 198.9,511.4 201.5,514.6 C204.1,517.8 208.8,519.5 213.7,519.8 C218.6,520.1 227.7,513.8 231.0,516.4 C234.3,519.0 233.6,527.4 233.6,535.5 C233.6,543.6 233.4,555.5 231.0,565.0 C228.6,574.5 224.7,584.4 218.9,592.8 C213.1,601.2 205.3,609.3 196.3,615.4 C187.3,621.5 174.8,626.9 165.0,629.2 C155.2,631.5 147.1,631.2 137.3,629.2 C127.5,627.2 115.5,622.9 106.0,617.1 C96.5,611.3 87.5,603.5 80.0,594.5 C72.5,585.5 65.1,574.3 60.8,563.3 C56.4,552.3 54.5,541.2 53.9,528.5 C53.3,515.8 54.5,498.7 57.4,486.8 C60.3,474.9 64.6,466.0 71.3,457.3 C78.0,448.6 85.7,440.4 97.3,434.7 C108.9,429.0 127.1,424.3 140.7,423.4 Z" fill="#e1f2dd" stroke="#5ba34c" stroke-width="2.6"/>
<path d="M98.2,451.8 C99.8,448.9 103.7,443.9 107.7,442.3 C111.7,440.7 118.4,441.2 122.1,442.3 C125.8,443.4 127.6,449.1 130.0,448.6 C132.4,448.1 133.5,440.7 136.4,439.1 C139.3,437.5 144.4,437.2 147.5,439.1 C150.6,441.0 154.4,447.0 154.7,450.2 C155.0,453.4 152.4,457.1 149.1,458.2 C145.8,459.3 138.5,454.5 134.8,456.6 C131.1,458.7 129.4,467.4 126.8,470.9 C124.1,474.3 118.9,473.9 118.9,477.3 C118.9,480.8 125.0,485.2 126.8,491.6 C128.7,498.0 130.5,508.3 130.0,515.5 C129.5,522.7 127.4,528.8 123.7,534.6 C120.0,540.4 110.6,546.3 107.7,550.5 C104.8,554.7 103.0,557.9 106.2,560.0 C109.4,562.1 120.7,561.1 126.8,563.2 C132.9,565.3 139.6,568.3 142.8,572.8 C146.0,577.3 147.0,585.0 145.9,590.3 C144.8,595.6 140.6,602.2 136.4,604.6 C132.2,607.0 125.5,607.2 120.5,604.6 C115.5,602.0 111.5,596.9 106.2,588.7 C100.9,580.5 93.1,567.0 88.6,555.3 C84.1,543.6 79.6,529.3 79.1,518.7 C78.6,508.1 82.0,499.3 85.5,491.6 C89.0,483.9 97.7,477.8 99.8,472.5 C101.9,467.2 98.5,463.2 98.2,459.8 C97.9,456.4 96.6,454.7 98.2,451.8 Z" fill="#c3e0b9" stroke="#b2d6a7" stroke-width="1"/>
<ellipse cx="173" cy="473.3" rx="15.5" ry="17.5" fill="#e8f5e4" stroke="#55a048" stroke-width="2.2"/>
<ellipse cx="162.7" cy="536.2" rx="20.7" ry="23.9" fill="#e8f5e4" stroke="#55a048" stroke-width="2.2"/>
<path d="M164.0,468.0 L164.8,468.5 L165.4,468.5 L165.3,467.3 L165.1,465.9 L166.1,466.1 L167.6,466.9 L167.7,465.6 L167.6,464.0 L169.2,464.8 L170.3,464.9 L170.0,462.8 L170.9,462.5 L172.4,463.7 L172.8,462.8 L173.0,461.1 L173.8,461.2 L174.6,462.5 L174.9,462.9 L175.4,462.1 L176.5,461.4 L177.3,461.5 L176.9,462.7 L176.2,463.9 L177.3,464.1 L179.0,464.3 L178.0,465.7 L177.7,466.7 L180.0,467.1 L179.0,468.4 L178.7,469.6 L180.9,470.2 L179.4,471.5 L179.5,472.5 L181.4,473.3 L179.9,474.3 L179.4,475.2 L181.2,476.1 L181.1,476.9 L179.5,477.2 L179.0,477.5 L179.6,478.4 L180.1,479.7 L179.4,480.0 L177.9,479.1 L177.3,479.4 L177.3,481.3 L176.5,481.6 L175.2,480.1 L174.6,481.0 L174.2,482.8 L173.1,481.8 L172.1,480.8 L171.5,482.4 L170.9,483.4 L170.1,482.2 L169.5,481.1 L169.1,481.5 L168.5,482.4 L167.7,482.9 L166.9,482.5 L166.8,481.8 L167.2,481.4 L168.1,481.2 L169.1,481.2 L169.2,480.7 L168.3,479.5 L168.0,478.5 L169.5,478.6 L170.8,478.6 L170.1,477.1 L169.8,475.9 L171.5,476.2 L172.5,476.0 L171.7,474.4 L171.6,473.5 L173.1,473.7 L174.2,473.8 L174.1,473.0 L173.4,472.0" fill="none" stroke="#6fae62" stroke-width="0.8"/>
<path d="M150.0,530.0 L151.0,530.4 L151.5,530.0 L150.9,528.7 L150.7,527.5 L152.3,527.9 L153.5,527.8 L152.7,525.9 L153.5,525.4 L155.4,525.9 L154.9,524.1 L155.3,523.1 L157.3,523.9 L157.3,522.4 L157.3,520.9 L159.0,521.9 L159.8,521.7 L159.7,519.7 L160.5,519.4 L161.4,520.7 L161.9,521.1 L162.7,519.8 L163.6,519.0 L164.0,520.5 L164.4,521.7 L165.9,520.4 L166.9,520.5 L166.7,522.6 L168.0,522.3 L169.5,521.8 L169.2,523.9 L170.2,524.1 L172.0,523.6 L171.4,525.6 L172.0,526.2 L174.1,525.8 L173.7,527.2 L173.1,528.4 L174.8,528.4 L175.9,529.0 L174.6,530.1 L174.0,530.8 L175.7,531.6 L175.9,532.6 L173.9,533.2 L175.1,534.5 L175.3,535.7 L173.1,536.2 L174.8,537.9 L173.3,538.6 L172.6,539.6 L173.7,541.4 L171.2,541.4 L172.1,543.2 L171.6,544.2 L169.6,544.1 L170.7,546.0 L170.1,546.8 L168.2,546.2 L168.2,547.2 L168.5,548.9 L167.8,549.1 L166.7,547.9 L166.0,547.7 L165.4,549.5 L164.6,549.9 L163.9,548.1 L163.1,548.1 L161.9,549.7 L161.2,548.7 L160.8,547.1 L159.5,548.3 L158.4,548.7 L158.4,546.8 L157.9,546.2 L156.4,547.3 L155.5,547.3 L155.8,546.0 L156.2,545.0 L156.2,544.9 L155.5,545.0 L154.6,544.5 L154.1,543.7 L154.6,543.3 L156.1,543.6 L157.0,543.5 L156.4,542.0 L156.4,540.8 L158.3,541.6 L158.9,540.9 L158.4,538.9 L160.0,539.3 L161.3,539.4 L160.8,537.3 L161.7,537.1 L163.4,537.9 L163.4,536.6 L163.1,535.1 L163.9,535.2 L165.1,535.7" fill="none" stroke="#6fae62" stroke-width="0.8"/>
<circle cx="188" cy="450" r="1.8" fill="#b9dcb0"/>
<circle cx="199" cy="456" r="1.8" fill="#b9dcb0"/>
<circle cx="178" cy="505" r="1.8" fill="#b9dcb0"/>
<circle cx="156" cy="495" r="1.8" fill="#b9dcb0"/>
<circle cx="136" cy="529" r="1.8" fill="#b9dcb0"/>
<circle cx="193" cy="532" r="1.8" fill="#b9dcb0"/>
<circle cx="210" cy="520" r="1.8" fill="#b9dcb0"/>
<circle cx="222" cy="540" r="1.8" fill="#b9dcb0"/>
<circle cx="212" cy="561" r="1.8" fill="#b9dcb0"/>
<circle cx="194" cy="570" r="1.8" fill="#b9dcb0"/>
<circle cx="178" cy="581" r="1.8" fill="#b9dcb0"/>
<circle cx="160" cy="588" r="1.8" fill="#b9dcb0"/>
<circle cx="146" cy="565" r="1.8" fill="#b9dcb0"/>
<circle cx="97" cy="479" r="1.8" fill="#b9dcb0"/>
<circle cx="83" cy="517" r="1.8" fill="#b9dcb0"/>
<circle cx="70" cy="560" r="1.8" fill="#b9dcb0"/>
<circle cx="82" cy="578" r="1.8" fill="#b9dcb0"/>
<circle cx="94" cy="600" r="1.8" fill="#b9dcb0"/>
<circle cx="158" cy="620" r="1.8" fill="#b9dcb0"/>
<circle cx="204" cy="578" r="1.8" fill="#b9dcb0"/>
<circle cx="194" cy="532" r="4" fill="#c3e2ba"/>
<path d="M373.3,381.7 C379.3,382.7 383.3,382.2 385.3,376.7 L387.3,370.7 C389.3,366.7 394.3,366.2 403.3,366.7" fill="none" stroke="#1b9ad6" stroke-width="4.4" stroke-linecap="butt" stroke-linejoin="round"/>
<path d="M331.5,411.8 C335.6,412.4 338.3,412.1 339.7,408.4 L341.0,404.3 C342.4,401.6 345.8,401.2 351.9,401.6" fill="none" stroke="#1b9ad6" stroke-width="3.0" stroke-linecap="butt" stroke-linejoin="round"/>
<path d="M238.6,438.4 C244.6,439.4 248.6,438.9 250.6,433.4 L252.6,427.4 C254.6,423.4 259.6,422.9 268.6,423.4" fill="none" stroke="#1b9ad6" stroke-width="4.4" stroke-linecap="butt" stroke-linejoin="round"/>
<path d="M375.0,432.2 C379.1,432.8 381.8,432.5 383.2,428.8 L384.5,424.7 C385.9,422.0 389.3,421.6 395.4,422.0" fill="none" stroke="#1b9ad6" stroke-width="3.0" stroke-linecap="butt" stroke-linejoin="round"/>
<path d="M266.9,496.2 C272.9,497.2 276.9,496.7 278.9,491.2 L280.9,485.2 C282.9,481.2 287.9,480.7 296.9,481.2" fill="none" stroke="#1b9ad6" stroke-width="4.4" stroke-linecap="butt" stroke-linejoin="round"/>
<path d="M312.5,503.3 C318.5,504.3 322.5,503.8 324.5,498.3 L326.5,492.3 C328.5,488.3 333.5,487.8 342.5,488.3" fill="none" stroke="#1b9ad6" stroke-width="4.4" stroke-linecap="butt" stroke-linejoin="round"/>
<circle cx="312.3" cy="380.8" r="15.2" fill="#7f96cc" stroke="#5b77b8" stroke-width="1.2"/><path d="M315.3,365.9 A15.2,15.2 0 0 1 315.3,395.7 A12.9,15.2 0 0 0 315.3,365.9Z" fill="#5b77b8" opacity="0.35"/><circle cx="306.2" cy="385.4" r="2.1" fill="#ffffff" opacity="0.5"/>
<circle cx="315.3" cy="449.7" r="15.5" fill="#8aa0d2" stroke="#5b77b8" stroke-width="1.2"/><path d="M318.4,434.5 A15.5,15.5 0 0 1 318.4,464.9 A13.2,15.5 0 0 0 318.4,434.5Z" fill="#5b77b8" opacity="0.35"/><circle cx="309.1" cy="454.3" r="2.2" fill="#ffffff" opacity="0.5"/>
<circle cx="357.9" cy="465.9" r="15.5" fill="#7dab6c" stroke="#5b8f4a" stroke-width="1.2"/><path d="M361.0,450.7 A15.5,15.5 0 0 1 361.0,481.1 A13.2,15.5 0 0 0 361.0,450.7Z" fill="#5b8f4a" opacity="0.35"/><circle cx="351.7" cy="470.5" r="2.2" fill="#ffffff" opacity="0.5"/>
<circle cx="349.8" cy="514.5" r="15.5" fill="#e39a70" stroke="#cf7a4a" stroke-width="1.2"/><path d="M352.9,499.3 A15.5,15.5 0 0 1 352.9,529.7 A13.2,15.5 0 0 0 352.9,499.3Z" fill="#cf7a4a" opacity="0.35"/><circle cx="343.6" cy="519.1" r="2.2" fill="#ffffff" opacity="0.5"/>
<circle cx="386.3" cy="547.9" r="15.5" fill="#cbcbcb" stroke="#aaaaaa" stroke-width="1.2"/><path d="M389.4,532.7 A15.5,15.5 0 0 1 389.4,563.1 A13.2,15.5 0 0 0 389.4,532.7Z" fill="#aaaaaa" opacity="0.35"/><circle cx="380.1" cy="552.5" r="2.2" fill="#ffffff" opacity="0.5"/>
<circle cx="409.6" cy="498.3" r="12.8" fill="#7b93cc" stroke="#5673b8" stroke-width="1.2"/><path d="M412.2,485.8 A12.8,12.8 0 0 1 412.2,510.8 A10.9,12.8 0 0 0 412.2,485.8Z" fill="#5673b8" opacity="0.35"/><circle cx="404.5" cy="502.1" r="1.8" fill="#ffffff" opacity="0.5"/>
<rect x="385.7" y="470.4" width="41.6" height="59.8" fill="none" stroke="#c00000" stroke-width="3"/>
<defs><radialGradient id="redglow"><stop offset="0" stop-color="#f4525a" stop-opacity="0.85"/><stop offset="0.5" stop-color="#f07a7a" stop-opacity="0.45"/><stop offset="1" stop-color="#f4a0a0" stop-opacity="0"/></radialGradient><filter id="blur3" x="-50%" y="-50%" width="200%" height="200%"><feGaussianBlur stdDeviation="6"/></filter><radialGradient id="ring"><stop offset="0.55" stop-color="#ff3030" stop-opacity="0"/><stop offset="0.78" stop-color="#e8202a" stop-opacity="0.75"/><stop offset="1" stop-color="#ff6060" stop-opacity="0"/></radialGradient></defs>
<symbol id="ab" viewBox="-30 -30 60 60" overflow="visible">
<path d="M0.0,26.0 L0.0,0.0 M-3.9,3.0 L-16.1,-20.0 M3.9,3.0 L16.1,-20.0 " stroke="#fde3e8" stroke-width="13" stroke-linecap="butt" stroke-linejoin="round" fill="none"/>
<path d="M0.0,26.0 L0.0,0.0 M-3.9,3.0 L-16.1,-20.0 M3.9,3.0 L16.1,-20.0 " stroke="#f8b4c4" stroke-width="10.5" stroke-linecap="butt" fill="none"/>
<path d="M-2.5,23 L-2.5,0 L-12.4,-18.5 M2.5,23 L2.5,0 L12.4,-18.5 M-17.0,-16.1 L-10.4,-3.7 M17.0,-16.1 L10.4,-3.7" stroke="#ec1c50" stroke-width="2.8" stroke-linejoin="round" fill="none"/>
</symbol>
<path d="M1216.8,386.4 L1227.7,379.9" stroke="#dde0f0" stroke-width="4.2" stroke-linecap="round"/>
<path d="M1215.9,419.4 L1233.8,438.2" stroke="#dde0f0" stroke-width="4.2" stroke-linecap="round"/>
<path d="M1168.9,418.4 L1163.2,425" stroke="#dde0f0" stroke-width="4.2" stroke-linecap="round"/>
<path d="M1196.1,433.5 L1197.1,442" stroke="#dde0f0" stroke-width="4.2" stroke-linecap="round"/>
<path d="M1197.1,369 L1197.1,362.9" stroke="#dde0f0" stroke-width="4.2" stroke-linecap="round"/>
<path d="M1170.7,380 L1166,377" stroke="#dde0f0" stroke-width="4.2" stroke-linecap="round"/>
<path d="M1181,372 Q1172,362 1168.9,347.9" stroke="#9a9ad2" stroke-width="5.4" stroke-linecap="round" fill="none"/>
<path d="M1181,372 Q1172,362 1168.9,347.9" stroke="#b8b8e8" stroke-width="3.4" stroke-linecap="round" fill="none"/>
<path d="M1190.5,370 L1190.5,342.2" stroke="#9a9ad2" stroke-width="5.4" stroke-linecap="round" fill="none"/>
<path d="M1190.5,370 L1190.5,342.2" stroke="#b8b8e8" stroke-width="3.4" stroke-linecap="round" fill="none"/>
<path d="M1207,375 Q1215,362 1223,357.3" stroke="#9a9ad2" stroke-width="5.4" stroke-linecap="round" fill="none"/>
<path d="M1207,375 Q1215,362 1223,357.3" stroke="#b8b8e8" stroke-width="3.4" stroke-linecap="round" fill="none"/>
<path d="M1168,396 Q1155,396 1145.3,397.3" stroke="#9a9ad2" stroke-width="5.4" stroke-linecap="round" fill="none"/>
<path d="M1168,396 Q1155,396 1145.3,397.3" stroke="#b8b8e8" stroke-width="3.4" stroke-linecap="round" fill="none"/>
<path d="M1176,426 Q1170,436 1169.8,446.7" stroke="#9a9ad2" stroke-width="5.4" stroke-linecap="round" fill="none"/>
<path d="M1176,426 Q1170,436 1169.8,446.7" stroke="#b8b8e8" stroke-width="3.4" stroke-linecap="round" fill="none"/>
<path d="M1203,428 Q1207,438 1208.8,446.7" stroke="#9a9ad2" stroke-width="5.4" stroke-linecap="round" fill="none"/>
<path d="M1203,428 Q1207,438 1208.8,446.7" stroke="#b8b8e8" stroke-width="3.4" stroke-linecap="round" fill="none"/>
<ellipse cx="1192" cy="401" rx="26.8" ry="33.4" fill="#b8b8e8" stroke="#9a9ad2" stroke-width="1.1" transform="rotate(-6 1192 401)"/>
<ellipse cx="1187.6" cy="401.4" rx="12.5" ry="18.4" fill="#9797cd" stroke="#8a8ac4" stroke-width="0.6" transform="rotate(-8 1187.6 401.4)"/>
<path d="M1284,364.7 C1275,360 1262,357 1254,359.5 C1246,362 1238,368 1225.4,372.5" stroke="#7ab1c0" stroke-width="4.6" stroke-linecap="round" fill="none"/>
<path d="M1238.4,367.3 L1228.9,347.4" stroke="#7ab1c0" stroke-width="4.6" stroke-linecap="round" fill="none"/>
<path d="M1245.4,363 L1243.7,347.4" stroke="#7ab1c0" stroke-width="4.6" stroke-linecap="round" fill="none"/>
<path d="M1263.6,362.1 C1258,370 1256,378 1255.8,382.1 C1252,392 1246,398 1243.7,402.9" stroke="#7ab1c0" stroke-width="4.6" stroke-linecap="round" fill="none"/>
<path d="M1256.7,383.8 L1260.2,408.1" stroke="#7ab1c0" stroke-width="4.6" stroke-linecap="round" fill="none"/>
<path d="M1290,394 C1280,404 1272,410 1267.1,413.4 C1262,417 1256,419 1252.3,420.3" stroke="#7ab1c0" stroke-width="4.6" stroke-linecap="round" fill="none"/>
<path d="M1281.9,406 C1281,420 1281,438 1280,450" stroke="#7ab1c0" stroke-width="4.6" stroke-linecap="round" fill="none"/>
<path d="M1260.2,421 C1258,432 1258,440 1257.5,450" stroke="#7ab1c0" stroke-width="4.6" stroke-linecap="round" fill="none"/>
<path d="M1284,364.7 C1275,360 1262,357 1254,359.5 C1246,362 1238,368 1225.4,372.5" stroke="#a3d0dc" stroke-width="2.8" stroke-linecap="round" fill="none"/>
<path d="M1238.4,367.3 L1228.9,347.4" stroke="#a3d0dc" stroke-width="2.8" stroke-linecap="round" fill="none"/>
<path d="M1245.4,363 L1243.7,347.4" stroke="#a3d0dc" stroke-width="2.8" stroke-linecap="round" fill="none"/>
<path d="M1263.6,362.1 C1258,370 1256,378 1255.8,382.1 C1252,392 1246,398 1243.7,402.9" stroke="#a3d0dc" stroke-width="2.8" stroke-linecap="round" fill="none"/>
<path d="M1256.7,383.8 L1260.2,408.1" stroke="#a3d0dc" stroke-width="2.8" stroke-linecap="round" fill="none"/>
<path d="M1290,394 C1280,404 1272,410 1267.1,413.4 C1262,417 1256,419 1252.3,420.3" stroke="#a3d0dc" stroke-width="2.8" stroke-linecap="round" fill="none"/>
<path d="M1281.9,406 C1281,420 1281,438 1280,450" stroke="#a3d0dc" stroke-width="2.8" stroke-linecap="round" fill="none"/>
<path d="M1260.2,421 C1258,432 1258,440 1257.5,450" stroke="#a3d0dc" stroke-width="2.8" stroke-linecap="round" fill="none"/>
<path d="M1302.0,339.5 C1306.3,338.7 1312.5,339.9 1316.0,343.0 C1319.5,346.1 1321.8,352.5 1323.0,358.0 C1324.2,363.5 1324.5,370.0 1323.5,376.0 C1322.5,382.0 1320.2,389.8 1317.0,394.0 C1313.8,398.2 1308.2,400.6 1304.0,401.5 C1299.8,402.4 1294.8,401.6 1292.0,399.5 C1289.2,397.4 1288.1,393.1 1287.0,389.0 C1285.9,384.9 1286.4,379.2 1285.5,375.0 C1284.6,370.8 1280.8,368.5 1281.5,364.0 C1282.2,359.5 1286.6,352.1 1290.0,348.0 C1293.4,343.9 1297.7,340.3 1302.0,339.5 Z" fill="#a3d0dc" stroke="#7ab1c0" stroke-width="1.1"/>
<ellipse cx="1307" cy="371.7" rx="11.7" ry="18.7" fill="#72a8b8" stroke="#6398a8" stroke-width="0.8" transform="rotate(-5 1307 371.7)"/>
<use href="#ab" x="-30" y="-30" width="60" height="60" transform="translate(1353.7 349.2) rotate(7)"/>
<use href="#ab" x="-30" y="-30" width="60" height="60" transform="translate(1386.2 331.1) rotate(5)"/>
<use href="#ab" x="-30" y="-30" width="60" height="60" transform="translate(1382.6 378.9) rotate(90)"/>
<use href="#ab" x="-30" y="-30" width="60" height="60" transform="translate(1345 399.9) rotate(7)"/>
<use href="#ab" x="-30" y="-30" width="60" height="60" transform="translate(1371 418.7) rotate(5)"/>
<use href="#ab" x="-30" y="-30" width="60" height="60" transform="translate(1318 437.8) rotate(5)"/>
<use href="#ab" x="-30" y="-30" width="60" height="60" transform="translate(1359.5 460.7) rotate(5)"/>
<use href="#ab" x="-30" y="-30" width="60" height="60" transform="translate(1314 478.5) rotate(0)"/>
<use href="#ab" x="-30" y="-30" width="60" height="60" transform="translate(1339.7 505.3) rotate(10)"/>
<use href="#ab" x="-30" y="-30" width="60" height="60" transform="translate(1277.8 480.4) rotate(90)"/>
<use href="#ab" x="-30" y="-30" width="60" height="60" transform="translate(1237.8 504.1) rotate(5)"/>
<use href="#ab" x="-30" y="-30" width="60" height="60" transform="translate(1273.7 518) rotate(10)"/>
<use href="#ab" x="-30" y="-30" width="60" height="60" transform="translate(1235 533) rotate(6)"/>
<use href="#ab" x="-30" y="-30" width="60" height="60" transform="translate(1219.3 555) rotate(-2)"/>
<g >
<clipPath id="kneeclip1"><path d="M1451.7,345.6 L1482.9,362.1 L1474.0,376.0 L1464.0,393.0 L1456.0,410.0 L1452.0,422.0 L1456.0,436.0 L1458.0,448.0 L1452.0,459.0 L1440.0,466.0 L1420.0,466.0 L1405.0,458.0 L1392.0,444.0 L1392.0,425.0 L1402.0,408.0 L1416.0,393.0 L1428.0,380.0 L1440.0,361.0Z M1400.0,462.0 L1440.0,462.0 L1462.0,468.0 L1473.0,478.0 L1471.0,500.0 L1478.0,525.0 L1485.0,554.0 L1452.0,554.0 L1428.0,520.0 L1415.0,498.0 L1404.0,480.0Z M1472.0,476.0 L1482.0,480.0 L1490.0,502.0 L1508.0,550.0 L1502.0,554.0 L1484.0,515.0 L1474.0,496.0Z"/></clipPath>
<path d="M1472.0,476.0 L1482.0,480.0 L1490.0,502.0 L1508.0,550.0 L1502.0,554.0 L1484.0,515.0 L1474.0,496.0Z" fill="#e6d3ae" stroke="#dcc59c" stroke-width="1"/>
<path d="M1400.0,462.0 L1440.0,462.0 L1462.0,468.0 L1473.0,478.0 L1471.0,500.0 L1478.0,525.0 L1485.0,554.0 L1452.0,554.0 L1428.0,520.0 L1415.0,498.0 L1404.0,480.0Z" fill="#e8d6b2" stroke="#dcc59c" stroke-width="1" stroke-linejoin="round"/>
<path d="M1451.7,345.6 L1482.9,362.1 L1474.0,376.0 L1464.0,393.0 L1456.0,410.0 L1452.0,422.0 L1456.0,436.0 L1458.0,448.0 L1452.0,459.0 L1440.0,466.0 L1420.0,466.0 L1405.0,458.0 L1392.0,444.0 L1392.0,425.0 L1402.0,408.0 L1416.0,393.0 L1428.0,380.0 L1440.0,361.0Z" fill="#e9d8b5" stroke="#dcc59c" stroke-width="1" stroke-linejoin="round"/>
<g clip-path="url(#kneeclip1)">
<path d="M1462,352 L1482.9,362.1 L1474,376 L1464,393 L1456,410 L1452,422 L1446,412 L1452,390 Z" fill="#f1e6cd"/>
<path d="M1427,392 C1428,408 1440,420 1452,425" stroke="#d6bf94" stroke-width="2.5" fill="none"/>
<ellipse cx="1425" cy="470" rx="34" ry="46" fill="#eeaa9c" opacity="0.45" filter="url(#blur3)" transform="rotate(-20 1425 470)"/>
<path d="M1433,500 L1462,554" stroke="#d6bf95" stroke-width="2" fill="none"/>
</g>
<ellipse cx="1396" cy="447" rx="9.5" ry="21" fill="#e8c4ad" stroke="#d9b59c" stroke-width="1" transform="rotate(-15 1396 447)"/>
<path d="M1404,404 C1398,425 1402,445 1415,458 C1430,466 1448,466 1462,468" stroke="#cbbccc" stroke-width="1.5" fill="none"/>
<path d="M1468,478 C1460,495 1465,505 1474,512" stroke="#cbbccc" stroke-width="1.2" fill="none"/>
<ellipse cx="1420" cy="462" rx="24" ry="32" fill="url(#redglow)" transform="rotate(-25 1420 462)"/>
</g>
<defs><filter id="blur1" x="-50%" y="-50%" width="200%" height="200%"><feGaussianBlur stdDeviation="1.3"/></filter><filter id="blur05" x="-50%" y="-50%" width="200%" height="200%"><feGaussianBlur stdDeviation="0.6"/></filter></defs>
<path d="M1700.0,356.0 C1703.7,353.7 1716.3,353.7 1720.0,356.0 C1723.7,358.3 1717.8,366.7 1722.0,370.0 C1726.2,373.3 1739.3,373.0 1745.0,376.0 C1750.7,379.0 1751.0,381.0 1756.0,388.0 C1761.0,395.0 1767.7,407.7 1775.0,418.0 C1782.3,428.3 1790.8,442.5 1800.0,450.0 C1809.2,457.5 1828.0,460.0 1830.0,463.0 C1832.0,466.0 1817.0,466.5 1812.0,468.0 C1807.0,469.5 1807.0,476.7 1800.0,472.0 C1793.0,467.3 1778.0,450.3 1770.0,440.0 C1762.0,429.7 1755.7,411.7 1752.0,410.0 C1748.3,408.3 1748.7,420.0 1748.0,430.0 C1747.3,440.0 1747.7,458.3 1748.0,470.0 C1748.3,481.7 1750.3,487.0 1750.0,500.0 C1749.7,513.0 1747.3,533.0 1746.0,548.0 C1744.7,563.0 1743.3,577.2 1742.0,590.0 C1740.7,602.8 1737.0,614.2 1738.0,625.0 C1739.0,635.8 1749.0,649.5 1748.0,655.0 C1747.0,660.5 1735.3,663.0 1732.0,658.0 C1728.7,653.0 1729.0,636.3 1728.0,625.0 C1727.0,613.7 1727.0,602.8 1726.0,590.0 C1725.0,577.2 1724.3,563.8 1722.0,548.0 C1719.7,532.2 1715.7,495.0 1712.0,495.0 C1708.3,495.0 1703.0,532.2 1700.0,548.0 C1697.0,563.8 1695.7,577.2 1694.0,590.0 C1692.3,602.8 1690.3,613.7 1690.0,625.0 C1689.7,636.3 1694.3,653.0 1692.0,658.0 C1689.7,663.0 1678.0,660.5 1676.0,655.0 C1674.0,649.5 1680.0,635.8 1680.0,625.0 C1680.0,614.2 1677.0,602.8 1676.0,590.0 C1675.0,577.2 1675.0,563.0 1674.0,548.0 C1673.0,533.0 1670.3,513.0 1670.0,500.0 C1669.7,487.0 1671.7,481.7 1672.0,470.0 C1672.3,458.3 1672.7,440.0 1672.0,430.0 C1671.3,420.0 1671.7,408.3 1668.0,410.0 C1664.3,411.7 1658.0,429.7 1650.0,440.0 C1642.0,450.3 1627.0,467.3 1620.0,472.0 C1613.0,476.7 1613.0,469.5 1608.0,468.0 C1603.0,466.5 1588.0,466.0 1590.0,463.0 C1592.0,460.0 1610.8,457.5 1620.0,450.0 C1629.2,442.5 1637.7,428.3 1645.0,418.0 C1652.3,407.7 1659.0,395.0 1664.0,388.0 C1669.0,381.0 1669.3,379.0 1675.0,376.0 C1680.7,373.0 1693.8,373.3 1698.0,370.0 C1702.2,366.7 1696.3,358.3 1700.0,356.0 Z" fill="#f2dfd6" opacity="0.95"/>
<path d="M1679,381 L1650,428" stroke="#a8703a" stroke-width="4.8" stroke-linecap="round" fill="none"/>
<path d="M1679,381 L1650,428" stroke="#d8a062" stroke-width="3.6" stroke-linecap="round" fill="none"/>
<path d="M1741,381 L1770,428" stroke="#a8703a" stroke-width="4.8" stroke-linecap="round" fill="none"/>
<path d="M1741,381 L1770,428" stroke="#d8a062" stroke-width="3.6" stroke-linecap="round" fill="none"/>
<path d="M1648,427 L1612,458" stroke="#a8703a" stroke-width="3.4000000000000004" stroke-linecap="round" fill="none"/>
<path d="M1648,427 L1612,458" stroke="#d8a062" stroke-width="2.2" stroke-linecap="round" fill="none"/>
<path d="M1653,432 L1617,463" stroke="#a8703a" stroke-width="3.4000000000000004" stroke-linecap="round" fill="none"/>
<path d="M1653,432 L1617,463" stroke="#d8a062" stroke-width="2.2" stroke-linecap="round" fill="none"/>
<path d="M1772,427 L1808,458" stroke="#a8703a" stroke-width="3.4000000000000004" stroke-linecap="round" fill="none"/>
<path d="M1772,427 L1808,458" stroke="#d8a062" stroke-width="2.2" stroke-linecap="round" fill="none"/>
<path d="M1767,432 L1803,463" stroke="#a8703a" stroke-width="3.4000000000000004" stroke-linecap="round" fill="none"/>
<path d="M1767,432 L1803,463" stroke="#d8a062" stroke-width="2.2" stroke-linecap="round" fill="none"/>
<path d="M1684,384 C1690,378 1700,384 1698,398 C1696,410 1688,414 1684,405 Z" fill="#d8a062" stroke="#a8703a" stroke-width="1"/>
<path d="M1736,384 C1730,378 1720,384 1722,398 C1724,410 1732,414 1736,405 Z" fill="#d8a062" stroke="#a8703a" stroke-width="1"/>
<ellipse cx="1680" cy="381" rx="5" ry="4" fill="#d8a062" stroke="#a8703a" stroke-width="1"/><ellipse cx="1740" cy="381" rx="5" ry="4" fill="#d8a062" stroke="#a8703a" stroke-width="1"/>
<path d="M1614,462 L1592.7,458.3" stroke="#d8a062" stroke-width="1.3" stroke-linecap="round"/>
<path d="M1614,462 L1592.1,461.7" stroke="#d8a062" stroke-width="1.3" stroke-linecap="round"/>
<path d="M1614,462 L1592.0,465.2" stroke="#d8a062" stroke-width="1.3" stroke-linecap="round"/>
<path d="M1614,462 L1592.5,468.6" stroke="#d8a062" stroke-width="1.3" stroke-linecap="round"/>
<path d="M1614,462 L1593.5,471.9" stroke="#d8a062" stroke-width="1.3" stroke-linecap="round"/>
<path d="M1806,462 L1827.3,458.3" stroke="#d8a062" stroke-width="1.3" stroke-linecap="round"/>
<path d="M1806,462 L1827.9,461.7" stroke="#d8a062" stroke-width="1.3" stroke-linecap="round"/>
<path d="M1806,462 L1828.0,465.2" stroke="#d8a062" stroke-width="1.3" stroke-linecap="round"/>
<path d="M1806,462 L1827.5,468.6" stroke="#d8a062" stroke-width="1.3" stroke-linecap="round"/>
<path d="M1806,462 L1826.5,471.9" stroke="#d8a062" stroke-width="1.3" stroke-linecap="round"/>
<path d="M1687,478 L1688,547" stroke="#a8703a" stroke-width="5.4" stroke-linecap="round" fill="none"/>
<path d="M1687,478 L1688,547" stroke="#d8a062" stroke-width="4.2" stroke-linecap="round" fill="none"/>
<path d="M1738,478 L1733,547" stroke="#a8703a" stroke-width="5.4" stroke-linecap="round" fill="none"/>
<path d="M1738,478 L1733,547" stroke="#d8a062" stroke-width="4.2" stroke-linecap="round" fill="none"/>
<path d="M1686,556 L1686,623" stroke="#a8703a" stroke-width="4.8" stroke-linecap="round" fill="none"/>
<path d="M1686,556 L1686,623" stroke="#d8a062" stroke-width="3.6" stroke-linecap="round" fill="none"/>
<path d="M1733,556 L1733,623" stroke="#a8703a" stroke-width="4.8" stroke-linecap="round" fill="none"/>
<path d="M1733,556 L1733,623" stroke="#d8a062" stroke-width="3.6" stroke-linecap="round" fill="none"/>
<path d="M1680,560 L1680,620 M1740,560 L1740,620" stroke="#a8703a" stroke-width="1.5"/>
<path d="M1679,628 L1687,628 L1690,652 C1689,658 1677,658 1676,652 Z" fill="#d8a062" stroke="#a8703a" stroke-width="0.8"/>
<path d="M1679,640 L1678,655 M1683,640 L1683,656 M1687,640 L1688,655" stroke="#a8703a" stroke-width="0.7"/>
<path d="M1733,628 L1741,628 L1744,652 C1743,658 1731,658 1730,652 Z" fill="#d8a062" stroke="#a8703a" stroke-width="0.8"/>
<path d="M1733,640 L1732,655 M1737,640 L1737,656 M1741,640 L1742,655" stroke="#a8703a" stroke-width="0.7"/>
<ellipse cx="1688" cy="550" rx="7" ry="6" fill="#d8a062" stroke="#a8703a" stroke-width="1"/>
<ellipse cx="1733" cy="550" rx="7" ry="6" fill="#d8a062" stroke="#a8703a" stroke-width="1"/>
<path d="M1686,452 C1680,462 1682,478 1692,486 C1698,482 1704,474 1706,466 C1702,458 1694,452 1686,452 Z" fill="#d8a062" stroke="#a8703a" stroke-width="1.1"/>
<path d="M1734,452 C1740,462 1738,478 1728,486 C1722,482 1716,474 1714,466 C1718,458 1726,452 1734,452 Z" fill="#d8a062" stroke="#a8703a" stroke-width="1.1"/>
<path d="M1704,462 L1716,462 L1713,482 L1707,482 Z" fill="#a8703a" opacity="0.8"/>
<path d="M1693,486 C1698,494 1722,494 1727,486" stroke="#a8703a" stroke-width="2.5" fill="none"/>
<path d="M1685,386 C1678,410 1680,430 1690,440 L1730,440 C1740,430 1742,410 1735,386 Z" fill="#ead8d0"/>
<path d="M1710,388.0 C1695,390.0 1684,394.0 1683,398.0" stroke="#a8703a" stroke-width="1.6" fill="none"/>
<path d="M1710,388.0 C1725,390.0 1736,394.0 1737,398.0" stroke="#a8703a" stroke-width="1.6" fill="none"/>
<path d="M1710,394.5 C1695,396.5 1684,400.5 1683,404.5" stroke="#a8703a" stroke-width="1.6" fill="none"/>
<path d="M1710,394.5 C1725,396.5 1736,400.5 1737,404.5" stroke="#a8703a" stroke-width="1.6" fill="none"/>
<path d="M1710,401.0 C1695,403.0 1684,407.0 1683,411.0" stroke="#a8703a" stroke-width="1.6" fill="none"/>
<path d="M1710,401.0 C1725,403.0 1736,407.0 1737,411.0" stroke="#a8703a" stroke-width="1.6" fill="none"/>
<path d="M1710,407.5 C1695,409.5 1684,413.5 1683,417.5" stroke="#a8703a" stroke-width="1.6" fill="none"/>
<path d="M1710,407.5 C1725,409.5 1736,413.5 1737,417.5" stroke="#a8703a" stroke-width="1.6" fill="none"/>
<path d="M1710,414.0 C1695,416.0 1684,420.0 1683,424.0" stroke="#a8703a" stroke-width="1.6" fill="none"/>
<path d="M1710,414.0 C1725,416.0 1736,420.0 1737,424.0" stroke="#a8703a" stroke-width="1.6" fill="none"/>
<path d="M1710,420.5 C1695,422.5 1684,426.5 1683,430.5" stroke="#a8703a" stroke-width="1.6" fill="none"/>
<path d="M1710,420.5 C1725,422.5 1736,426.5 1737,430.5" stroke="#a8703a" stroke-width="1.6" fill="none"/>
<path d="M1710,427.0 C1695,429.0 1684,433.0 1683,437.0" stroke="#a8703a" stroke-width="1.6" fill="none"/>
<path d="M1710,427.0 C1725,429.0 1736,433.0 1737,437.0" stroke="#a8703a" stroke-width="1.6" fill="none"/>
<path d="M1710,433.5 C1695,435.5 1684,439.5 1683,443.5" stroke="#a8703a" stroke-width="1.6" fill="none"/>
<path d="M1710,433.5 C1725,435.5 1736,439.5 1737,443.5" stroke="#a8703a" stroke-width="1.6" fill="none"/>
<path d="M1710,365 L1710,452" stroke="#a8703a" stroke-width="4.8" stroke-linecap="round" fill="none"/>
<path d="M1710,365 L1710,452" stroke="#d8a062" stroke-width="3.6" stroke-linecap="round" fill="none"/>
<path d="M1710,376 L1680,379" stroke="#a8703a" stroke-width="3.8" stroke-linecap="round" fill="none"/>
<path d="M1710,376 L1680,379" stroke="#d8a062" stroke-width="2.6" stroke-linecap="round" fill="none"/>
<path d="M1710,376 L1740,379" stroke="#a8703a" stroke-width="3.8" stroke-linecap="round" fill="none"/>
<path d="M1710,376 L1740,379" stroke="#d8a062" stroke-width="2.6" stroke-linecap="round" fill="none"/>
<path d="M1696,340 C1694,325 1700,318 1710,318 C1720,318 1726,325 1724,340 L1721,352 C1718,358 1702,358 1699,352 Z" fill="#e6b983" stroke="#c08a50" stroke-width="1"/>
<ellipse cx="1704.5" cy="339" rx="3.4" ry="2.8" fill="#7a4a25"/><ellipse cx="1715.5" cy="339" rx="3.4" ry="2.8" fill="#7a4a25"/>
<path d="M1708,343 L1712,343 L1710,348 Z" fill="#7a4a25"/><path d="M1703,352 L1717,352" stroke="#f6e6d0" stroke-width="2"/>
<circle cx="1678.8" cy="380.2" r="17" fill="none" stroke="#f36c72" stroke-width="6.5" opacity="0.4" filter="url(#blur1)"/><circle cx="1678.8" cy="380.2" r="17" fill="none" stroke="#e0303a" stroke-width="2.6" opacity="0.7" filter="url(#blur05)"/>
<circle cx="1742.5" cy="380.2" r="17" fill="none" stroke="#f36c72" stroke-width="6.5" opacity="0.4" filter="url(#blur1)"/><circle cx="1742.5" cy="380.2" r="17" fill="none" stroke="#e0303a" stroke-width="2.6" opacity="0.7" filter="url(#blur05)"/>
<circle cx="1650.2" cy="427" r="15" fill="none" stroke="#f36c72" stroke-width="6.5" opacity="0.4" filter="url(#blur1)"/><circle cx="1650.2" cy="427" r="15" fill="none" stroke="#e0303a" stroke-width="2.6" opacity="0.7" filter="url(#blur05)"/>
<circle cx="1769.8" cy="427.7" r="15" fill="none" stroke="#f36c72" stroke-width="6.5" opacity="0.4" filter="url(#blur1)"/><circle cx="1769.8" cy="427.7" r="15" fill="none" stroke="#e0303a" stroke-width="2.6" opacity="0.7" filter="url(#blur05)"/>
<circle cx="1615.8" cy="461.6" r="15.5" fill="none" stroke="#f36c72" stroke-width="6.5" opacity="0.4" filter="url(#blur1)"/><circle cx="1615.8" cy="461.6" r="15.5" fill="none" stroke="#e0303a" stroke-width="2.6" opacity="0.7" filter="url(#blur05)"/>
<circle cx="1804.7" cy="461.6" r="15.5" fill="none" stroke="#f36c72" stroke-width="6.5" opacity="0.4" filter="url(#blur1)"/><circle cx="1804.7" cy="461.6" r="15.5" fill="none" stroke="#e0303a" stroke-width="2.6" opacity="0.7" filter="url(#blur05)"/>
<circle cx="1686.5" cy="550.7" r="20" fill="none" stroke="#f36c72" stroke-width="6.5" opacity="0.4" filter="url(#blur1)"/><circle cx="1686.5" cy="550.7" r="20" fill="none" stroke="#e0303a" stroke-width="2.6" opacity="0.7" filter="url(#blur05)"/>
<circle cx="1734" cy="550.7" r="20" fill="none" stroke="#f36c72" stroke-width="6.5" opacity="0.4" filter="url(#blur1)"/><circle cx="1734" cy="550.7" r="20" fill="none" stroke="#e0303a" stroke-width="2.6" opacity="0.7" filter="url(#blur05)"/>
<circle cx="1685.7" cy="621.4" r="16" fill="none" stroke="#f36c72" stroke-width="6.5" opacity="0.4" filter="url(#blur1)"/><circle cx="1685.7" cy="621.4" r="16" fill="none" stroke="#e0303a" stroke-width="2.6" opacity="0.7" filter="url(#blur05)"/>
<circle cx="1734.8" cy="621.4" r="16" fill="none" stroke="#f36c72" stroke-width="6.5" opacity="0.4" filter="url(#blur1)"/><circle cx="1734.8" cy="621.4" r="16" fill="none" stroke="#e0303a" stroke-width="2.6" opacity="0.7" filter="url(#blur05)"/>
<symbol id="prot" viewBox="75 45 1125 1275" preserveAspectRatio="none">
<polygon points="95.9,244.7 98.8,243.8 101.6,242.9 104.4,242.1 107.2,241.3 110.0,240.5 112.7,239.6 115.5,238.9 118.2,238.1 120.9,237.4 123.5,236.6 126.1,236.0 128.7,235.3 131.3,234.7 133.7,234.1 136.2,233.6 138.6,233.1 140.9,232.7 143.2,232.3 145.4,231.9 147.5,231.6 149.6,231.4 151.6,231.2 153.5,231.1 155.4,231.1 157.2,231.1 158.9,231.2 160.5,231.3 162.0,231.5 163.5,231.8 164.9,232.2 166.2,232.6 167.3,233.1 168.4,233.7 169.5,234.4 170.4,235.1 171.2,235.9 171.9,236.8 172.6,237.8 173.1,238.8 173.5,240.0 205.7,334.7 205.2,333.5 204.7,332.5 204.1,331.5 203.3,330.6 202.5,329.8 201.6,329.1 200.6,328.4 199.5,327.8 198.3,327.3 197.0,326.9 195.6,326.5 194.2,326.2 192.6,326.0 191.0,325.9 189.3,325.8 187.5,325.8 185.7,325.8 183.7,325.9 181.7,326.1 179.6,326.3 177.5,326.6 175.3,327.0 173.0,327.4 170.7,327.8 168.3,328.3 165.9,328.8 163.4,329.4 160.8,330.0 158.3,330.7 155.7,331.3 153.0,332.1 150.3,332.8 147.6,333.6 144.9,334.3 142.1,335.2 139.3,336.0 136.5,336.8 133.7,337.6 130.9,338.5 128.1,339.3" fill="var(--pf)" stroke="var(--po)" stroke-width="8.5" stroke-linejoin="round"/>
<polygon points="81.9,436.7 82.9,438.9 84.2,440.7 86.0,442.3 88.1,443.5 90.6,444.5 93.4,445.1 96.5,445.5 100.0,445.6 103.8,445.4 107.9,445.0 112.3,444.4 116.9,443.5 121.7,442.5 126.7,441.3 131.9,440.0 137.2,438.5 142.7,437.0 148.2,435.4 153.9,433.7 159.5,432.0 165.1,430.3 170.7,428.6 176.3,427.0 181.7,425.4 187.1,424.0 192.3,422.6 197.3,421.5 202.1,420.4 206.7,419.6 211.1,419.0 215.2,418.6 219.0,418.4 222.4,418.5 225.6,418.9 228.4,419.5 230.9,420.4 233.0,421.7 234.7,423.2 236.1,425.1 237.1,427.3 269.2,522.0 268.2,519.8 266.9,517.9 265.1,516.4 263.0,515.1 260.6,514.2 257.7,513.6 254.6,513.2 251.1,513.1 247.3,513.3 243.2,513.7 238.9,514.3 234.3,515.1 229.4,516.2 224.4,517.3 219.2,518.7 213.9,520.1 208.4,521.7 202.9,523.3 197.3,525.0 191.6,526.7 186.0,528.4 180.4,530.1 174.8,531.7 169.4,533.2 164.0,534.7 158.8,536.0 153.8,537.2 149.0,538.2 144.4,539.1 140.0,539.7 135.9,540.1 132.2,540.3 128.7,540.2 125.5,539.8 122.7,539.2 120.2,538.2 118.1,537.0 116.4,535.4 115.0,533.6 114.0,531.4" fill="var(--pf)" stroke="var(--po)" stroke-width="8.5" stroke-linejoin="round"/>
<polygon points="145.4,624.0 146.4,626.2 147.8,628.1 149.5,629.6 151.6,630.9 154.1,631.8 156.9,632.4 160.1,632.8 163.6,632.9 167.4,632.7 171.5,632.3 175.8,631.7 180.4,630.9 185.2,629.8 190.3,628.7 195.5,627.3 200.8,625.9 206.3,624.3 211.8,622.7 217.4,621.0 223.0,619.3 228.7,617.6 234.3,615.9 239.8,614.3 245.3,612.8 250.6,611.3 255.8,610.0 260.9,608.8 265.7,607.8 270.3,606.9 274.6,606.3 278.7,605.9 282.5,605.7 286.0,605.8 289.2,606.2 292.0,606.8 294.5,607.8 296.6,609.0 298.3,610.6 299.7,612.4 300.7,614.6 332.8,709.3 331.8,707.1 330.4,705.3 328.7,703.7 326.6,702.5 324.1,701.5 321.3,700.9 318.1,700.5 314.6,700.4 310.8,700.6 306.8,701.0 302.4,701.6 297.8,702.5 293.0,703.5 288.0,704.7 282.8,706.0 277.4,707.5 272.0,709.0 266.4,710.6 260.8,712.3 255.2,714.0 249.5,715.7 243.9,717.4 238.4,719.0 232.9,720.6 227.6,722.0 222.4,723.4 217.4,724.5 212.5,725.6 207.9,726.4 203.6,727.0 199.5,727.4 195.7,727.6 192.2,727.5 189.1,727.1 186.2,726.5 183.8,725.6 181.7,724.3 179.9,722.8 178.6,720.9 177.6,718.7" fill="var(--pf)" stroke="var(--po)" stroke-width="8.5" stroke-linejoin="round"/>
<polygon points="209.0,811.3 210.0,813.5 211.3,815.4 213.1,816.9 215.2,818.2 217.7,819.1 220.5,819.8 223.7,820.1 227.1,820.2 230.9,820.1 235.0,819.7 239.4,819.0 244.0,818.2 248.8,817.2 253.8,816.0 259.0,814.7 264.4,813.2 269.8,811.7 275.4,810.0 281.0,808.4 286.6,806.7 292.2,804.9 297.8,803.3 303.4,801.6 308.9,800.1 314.2,798.6 319.4,797.3 324.4,796.1 329.2,795.1 333.8,794.3 338.2,793.6 342.3,793.2 346.1,793.1 349.6,793.2 352.7,793.5 355.5,794.2 358.0,795.1 360.1,796.4 361.9,797.9 363.2,799.8 364.2,802.0 396.3,896.7 395.4,894.5 394.0,892.6 392.2,891.1 390.1,889.8 387.7,888.9 384.8,888.2 381.7,887.9 378.2,887.8 374.4,887.9 370.3,888.3 366.0,889.0 361.4,889.8 356.5,890.8 351.5,892.0 346.3,893.3 341.0,894.8 335.5,896.3 330.0,898.0 324.4,899.6 318.7,901.3 313.1,903.1 307.5,904.7 301.9,906.4 296.5,907.9 291.1,909.4 285.9,910.7 280.9,911.9 276.1,912.9 271.5,913.7 267.1,914.4 263.1,914.8 259.3,914.9 255.8,914.8 252.6,914.5 249.8,913.8 247.3,912.9 245.2,911.6 243.5,910.1 242.1,908.2 241.1,906.0" fill="var(--pf)" stroke="var(--po)" stroke-width="8.5" stroke-linejoin="round"/>
<polygon points="272.6,998.7 273.5,1000.9 274.9,1002.7 276.6,1004.3 278.7,1005.5 281.2,1006.5 284.0,1007.1 287.2,1007.5 290.7,1007.6 294.5,1007.4 298.6,1007.0 302.9,1006.4 307.5,1005.5 312.3,1004.5 317.4,1003.3 322.6,1002.0 327.9,1000.5 333.4,999.0 338.9,997.4 344.5,995.7 350.2,994.0 355.8,992.3 361.4,990.6 366.9,989.0 372.4,987.4 377.7,986.0 382.9,984.6 388.0,983.5 392.8,982.4 397.4,981.6 401.7,981.0 405.8,980.6 409.6,980.4 413.1,980.5 416.3,980.9 419.1,981.5 421.6,982.4 423.7,983.7 425.4,985.2 426.8,987.1 427.8,989.3 459.9,1084.0 458.9,1081.8 457.5,1079.9 455.8,1078.4 453.7,1077.1 451.2,1076.2 448.4,1075.6 445.2,1075.2 441.8,1075.1 438.0,1075.3 433.9,1075.7 429.5,1076.3 424.9,1077.1 420.1,1078.2 415.1,1079.3 409.9,1080.7 404.5,1082.1 399.1,1083.7 393.5,1085.3 387.9,1087.0 382.3,1088.7 376.6,1090.4 371.0,1092.1 365.5,1093.7 360.0,1095.2 354.7,1096.7 349.5,1098.0 344.5,1099.2 339.7,1100.2 335.1,1101.1 330.7,1101.7 326.6,1102.1 322.8,1102.3 319.3,1102.2 316.2,1101.8 313.3,1101.2 310.9,1100.2 308.8,1099.0 307.0,1097.4 305.7,1095.6 304.7,1093.4" fill="var(--pf)" stroke="var(--po)" stroke-width="8.5" stroke-linejoin="round"/>
<polygon points="1149.9,213.4 1147.1,212.8 1144.2,212.2 1141.3,211.6 1138.4,211.1 1135.6,210.5 1132.8,209.9 1130.0,209.4 1127.2,208.8 1124.5,208.3 1121.8,207.9 1119.1,207.4 1116.5,207.0 1113.9,206.6 1111.4,206.2 1108.9,205.9 1106.5,205.7 1104.1,205.4 1101.8,205.2 1099.6,205.1 1097.4,205.0 1095.3,205.0 1093.3,205.0 1091.4,205.0 1089.5,205.2 1087.7,205.3 1086.0,205.6 1084.4,205.9 1082.9,206.2 1081.5,206.7 1080.1,207.2 1078.9,207.7 1077.7,208.3 1076.7,209.0 1075.7,209.8 1074.9,210.6 1074.1,211.5 1073.5,212.5 1072.9,213.6 1072.5,214.7 1072.1,215.9 1048.2,313.0 1048.6,311.8 1049.0,310.7 1049.6,309.6 1050.2,308.6 1051.0,307.7 1051.9,306.9 1052.8,306.1 1053.9,305.4 1055.0,304.8 1056.3,304.3 1057.6,303.8 1059.0,303.3 1060.5,303.0 1062.1,302.7 1063.8,302.4 1065.6,302.3 1067.5,302.1 1069.4,302.1 1071.4,302.1 1073.5,302.1 1075.7,302.2 1077.9,302.3 1080.2,302.5 1082.6,302.8 1085.0,303.0 1087.5,303.4 1090.0,303.7 1092.6,304.1 1095.2,304.5 1097.9,305.0 1100.6,305.5 1103.3,306.0 1106.1,306.5 1108.9,307.0 1111.7,307.6 1114.6,308.2 1117.4,308.8 1120.3,309.3 1123.2,309.9 1126.1,310.6" fill="var(--pf)" stroke="var(--po)" stroke-width="8.5" stroke-linejoin="round"/>
<polygon points="1179.5,407.3 1178.7,409.6 1177.5,411.7 1175.9,413.4 1173.9,414.9 1171.5,416.0 1168.7,417.0 1165.6,417.6 1162.1,418.0 1158.3,418.2 1154.2,418.2 1149.8,418.0 1145.2,417.5 1140.3,416.9 1135.2,416.2 1129.9,415.3 1124.4,414.4 1118.8,413.3 1113.2,412.1 1107.4,411.0 1101.7,409.8 1095.9,408.5 1090.2,407.4 1084.5,406.2 1078.9,405.2 1073.5,404.2 1068.2,403.3 1063.1,402.6 1058.2,402.0 1053.5,401.5 1049.1,401.3 1045.0,401.3 1041.2,401.5 1037.8,401.9 1034.6,402.5 1031.9,403.5 1029.5,404.6 1027.5,406.1 1025.9,407.8 1024.7,409.9 1023.8,412.2 1000.0,509.3 1000.8,507.0 1002.0,505.0 1003.6,503.2 1005.6,501.8 1008.0,500.6 1010.8,499.6 1013.9,499.0 1017.4,498.6 1021.2,498.4 1025.3,498.4 1029.7,498.6 1034.3,499.1 1039.2,499.7 1044.3,500.4 1049.6,501.3 1055.1,502.3 1060.6,503.3 1066.3,504.5 1072.0,505.7 1077.8,506.9 1083.6,508.1 1089.3,509.2 1095.0,510.4 1100.5,511.5 1106.0,512.4 1111.3,513.3 1116.4,514.1 1121.3,514.6 1125.9,515.1 1130.3,515.3 1134.4,515.3 1138.2,515.2 1141.7,514.7 1144.8,514.1 1147.6,513.1 1150.0,512.0 1152.0,510.5 1153.6,508.8 1154.8,506.7 1155.6,504.4" fill="var(--pf)" stroke="var(--po)" stroke-width="8.5" stroke-linejoin="round"/>
<polygon points="1131.2,603.6 1130.4,605.9 1129.2,608.0 1127.6,609.7 1125.6,611.2 1123.2,612.3 1120.5,613.3 1117.3,613.9 1113.9,614.3 1110.1,614.5 1106.0,614.5 1101.6,614.3 1096.9,613.8 1092.0,613.3 1086.9,612.5 1081.6,611.6 1076.2,610.7 1070.6,609.6 1064.9,608.4 1059.2,607.3 1053.4,606.1 1047.7,604.8 1041.9,603.7 1036.3,602.5 1030.7,601.5 1025.2,600.5 1019.9,599.6 1014.8,598.9 1009.9,598.3 1005.3,597.8 1000.9,597.6 996.8,597.6 993.0,597.8 989.5,598.2 986.4,598.8 983.6,599.8 981.2,600.9 979.2,602.4 977.6,604.1 976.4,606.2 975.6,608.5 951.7,705.6 952.5,703.3 953.7,701.3 955.3,699.5 957.3,698.1 959.7,696.9 962.5,696.0 965.6,695.3 969.1,694.9 972.9,694.7 977.0,694.7 981.4,695.0 986.1,695.4 991.0,696.0 996.1,696.7 1001.4,697.6 1006.8,698.6 1012.4,699.6 1018.0,700.8 1023.8,702.0 1029.5,703.2 1035.3,704.4 1041.0,705.6 1046.7,706.7 1052.3,707.8 1057.7,708.7 1063.0,709.6 1068.1,710.4 1073.0,711.0 1077.7,711.4 1082.1,711.6 1086.2,711.6 1090.0,711.5 1093.5,711.0 1096.6,710.4 1099.3,709.5 1101.7,708.3 1103.7,706.8 1105.4,705.1 1106.6,703.0 1107.4,700.7" fill="var(--pf)" stroke="var(--po)" stroke-width="8.5" stroke-linejoin="round"/>
<polygon points="1083.0,799.9 1082.2,802.2 1081.0,804.3 1079.4,806.0 1077.4,807.5 1075.0,808.6 1072.2,809.6 1069.1,810.2 1065.6,810.7 1061.8,810.8 1057.7,810.8 1053.3,810.6 1048.6,810.1 1043.7,809.6 1038.6,808.8 1033.3,807.9 1027.9,807.0 1022.3,805.9 1016.6,804.7 1010.9,803.6 1005.2,802.4 999.4,801.2 993.7,800.0 988.0,798.8 982.4,797.8 977.0,796.8 971.7,795.9 966.6,795.2 961.7,794.6 957.0,794.1 952.6,793.9 948.5,793.9 944.7,794.1 941.2,794.5 938.1,795.1 935.3,796.1 933.0,797.3 931.0,798.7 929.3,800.5 928.1,802.5 927.3,804.8 903.5,901.9 904.3,899.6 905.5,897.6 907.1,895.8 909.1,894.4 911.5,893.2 914.2,892.3 917.4,891.6 920.8,891.2 924.6,891.0 928.7,891.0 933.1,891.3 937.8,891.7 942.7,892.3 947.8,893.0 953.1,893.9 958.5,894.9 964.1,895.9 969.8,897.1 975.5,898.3 981.3,899.5 987.0,900.7 992.8,901.9 998.4,903.0 1004.0,904.1 1009.5,905.0 1014.8,905.9 1019.9,906.7 1024.8,907.3 1029.4,907.7 1033.8,907.9 1037.9,907.9 1041.7,907.8 1045.2,907.3 1048.3,906.7 1051.1,905.8 1053.5,904.6 1055.5,903.1 1057.1,901.4 1058.3,899.3 1059.1,897.0" fill="var(--pf)" stroke="var(--po)" stroke-width="8.5" stroke-linejoin="round"/>
<polygon points="1034.7,996.2 1033.9,998.5 1032.7,1000.6 1031.1,1002.3 1029.1,1003.8 1026.7,1005.0 1023.9,1005.9 1020.8,1006.5 1017.3,1007.0 1013.5,1007.1 1009.4,1007.1 1005.0,1006.9 1000.4,1006.5 995.5,1005.9 990.4,1005.1 985.1,1004.2 979.6,1003.3 974.1,1002.2 968.4,1001.1 962.7,999.9 956.9,998.7 951.1,997.5 945.4,996.3 939.7,995.1 934.2,994.1 928.7,993.1 923.4,992.2 918.3,991.5 913.4,990.9 908.8,990.5 904.4,990.2 900.2,990.2 896.4,990.4 893.0,990.8 889.9,991.5 887.1,992.4 884.7,993.6 882.7,995.0 881.1,996.8 879.9,998.8 879.1,1001.1 855.2,1098.2 856.0,1095.9 857.2,1093.9 858.8,1092.1 860.8,1090.7 863.2,1089.5 866.0,1088.6 869.1,1087.9 872.6,1087.5 876.4,1087.3 880.5,1087.3 884.9,1087.6 889.5,1088.0 894.4,1088.6 899.5,1089.3 904.8,1090.2 910.3,1091.2 915.9,1092.2 921.5,1093.4 927.3,1094.6 933.0,1095.8 938.8,1097.0 944.5,1098.2 950.2,1099.3 955.8,1100.4 961.2,1101.4 966.5,1102.2 971.6,1103.0 976.5,1103.6 981.2,1104.0 985.6,1104.2 989.7,1104.3 993.5,1104.1 996.9,1103.6 1000.1,1103.0 1002.8,1102.1 1005.2,1100.9 1007.2,1099.4 1008.8,1097.7 1010.0,1095.7 1010.8,1093.3" fill="var(--pf)" stroke="var(--po)" stroke-width="8.5" stroke-linejoin="round"/>
<polygon points="173.5,240.0 174.1,242.5 174.4,245.3 174.2,248.4 173.7,251.8 172.8,255.6 171.6,259.6 170.0,263.9 168.1,268.5 165.9,273.4 163.4,278.5 160.6,283.8 157.6,289.3 154.4,295.0 151.0,300.9 147.4,306.9 143.6,313.0 139.7,319.3 135.8,325.6 131.8,331.9 127.7,338.3 123.7,344.7 119.6,351.1 115.7,357.4 111.8,363.6 108.1,369.7 104.5,375.8 101.0,381.6 97.8,387.3 94.8,392.9 92.0,398.2 89.5,403.3 87.3,408.1 85.4,412.7 83.8,417.0 82.6,421.0 81.7,424.8 81.2,428.2 81.1,431.4 81.3,434.2 81.9,436.7 114.0,531.4 113.4,528.9 113.2,526.1 113.3,522.9 113.9,519.5 114.7,515.7 116.0,511.7 117.5,507.4 119.4,502.8 121.6,498.0 124.1,492.9 126.9,487.6 129.9,482.0 133.2,476.3 136.6,470.5 140.2,464.4 143.9,458.3 147.8,452.1 151.8,445.8 155.8,439.4 159.8,433.0 163.9,426.6 167.9,420.3 171.9,414.0 175.7,407.7 179.5,401.6 183.1,395.6 186.5,389.7 189.8,384.0 192.8,378.5 195.5,373.2 198.0,368.1 200.2,363.2 202.1,358.6 203.7,354.3 204.9,350.3 205.8,346.5 206.3,343.1 206.5,340.0 206.3,337.2 205.7,334.7" fill="var(--pb)" stroke="var(--po)" stroke-width="8.5" stroke-linejoin="round"/>
<polygon points="237.1,427.3 237.7,429.8 237.9,432.6 237.8,435.7 237.3,439.2 236.4,442.9 235.1,447.0 233.6,451.3 231.7,455.9 229.5,460.7 227.0,465.8 224.2,471.1 221.2,476.6 218.0,482.3 214.5,488.2 210.9,494.2 207.2,500.4 203.3,506.6 199.3,512.9 195.3,519.3 191.3,525.7 187.2,532.0 183.2,538.4 179.2,544.7 175.4,550.9 171.6,557.1 168.0,563.1 164.6,569.0 161.3,574.7 158.3,580.2 155.6,585.5 153.1,590.6 150.9,595.4 149.0,600.0 147.4,604.3 146.2,608.4 145.3,612.1 144.8,615.6 144.6,618.7 144.8,621.5 145.4,624.0 177.6,718.7 177.0,716.2 176.7,713.4 176.9,710.3 177.4,706.8 178.3,703.1 179.5,699.0 181.1,694.7 183.0,690.1 185.2,685.3 187.7,680.2 190.5,674.9 193.5,669.4 196.7,663.7 200.1,657.8 203.8,651.8 207.5,645.6 211.4,639.4 215.3,633.1 219.3,626.7 223.4,620.3 227.4,614.0 231.5,607.6 235.4,601.3 239.3,595.1 243.0,588.9 246.6,582.9 250.1,577.0 253.3,571.3 256.3,565.8 259.1,560.5 261.6,555.4 263.8,550.6 265.7,546.0 267.3,541.7 268.5,537.6 269.4,533.9 269.9,530.4 270.1,527.3 269.8,524.5 269.2,522.0" fill="var(--pb)" stroke="var(--po)" stroke-width="8.5" stroke-linejoin="round"/>
<polygon points="300.7,614.6 301.3,617.1 301.5,619.9 301.3,623.1 300.8,626.5 299.9,630.3 298.7,634.3 297.1,638.6 295.2,643.2 293.0,648.0 290.5,653.1 287.8,658.4 284.7,664.0 281.5,669.7 278.1,675.5 274.5,681.6 270.7,687.7 266.8,693.9 262.9,700.2 258.9,706.6 254.8,713.0 250.8,719.4 246.8,725.7 242.8,732.0 238.9,738.3 235.2,744.4 231.6,750.4 228.1,756.3 224.9,762.0 221.9,767.5 219.1,772.8 216.6,777.9 214.4,782.8 212.5,787.4 211.0,791.7 209.7,795.7 208.8,799.5 208.3,802.9 208.2,806.0 208.4,808.8 209.0,811.3 241.1,906.0 240.5,903.5 240.3,900.7 240.4,897.6 241.0,894.2 241.8,890.4 243.1,886.4 244.7,882.1 246.6,877.5 248.8,872.6 251.3,867.5 254.0,862.2 257.0,856.7 260.3,851.0 263.7,845.1 267.3,839.1 271.1,833.0 274.9,826.7 278.9,820.4 282.9,814.1 287.0,807.7 291.0,801.3 295.0,794.9 299.0,788.6 302.8,782.4 306.6,776.3 310.2,770.2 313.6,764.4 316.9,758.7 319.9,753.1 322.6,747.8 325.1,742.7 327.4,737.9 329.2,733.3 330.8,729.0 332.1,725.0 332.9,721.2 333.5,717.8 333.6,714.6 333.4,711.8 332.8,709.3" fill="var(--pb)" stroke="var(--po)" stroke-width="8.5" stroke-linejoin="round"/>
<polygon points="364.2,802.0 364.8,804.5 365.0,807.3 364.9,810.4 364.4,813.8 363.5,817.6 362.2,821.6 360.7,825.9 358.8,830.5 356.6,835.4 354.1,840.5 351.3,845.8 348.3,851.3 345.1,857.0 341.6,862.9 338.0,868.9 334.3,875.0 330.4,881.3 326.4,887.6 322.4,893.9 318.4,900.3 314.3,906.7 310.3,913.1 306.4,919.4 302.5,925.6 298.7,931.7 295.1,937.8 291.7,943.6 288.5,949.3 285.4,954.9 282.7,960.2 280.2,965.3 278.0,970.1 276.1,974.7 274.5,979.0 273.3,983.0 272.4,986.8 271.9,990.2 271.7,993.4 271.9,996.2 272.6,998.7 304.7,1093.4 304.1,1090.9 303.9,1088.1 304.0,1084.9 304.5,1081.5 305.4,1077.7 306.6,1073.7 308.2,1069.4 310.1,1064.8 312.3,1060.0 314.8,1054.9 317.6,1049.6 320.6,1044.0 323.8,1038.3 327.3,1032.5 330.9,1026.4 334.6,1020.3 338.5,1014.1 342.4,1007.8 346.5,1001.4 350.5,995.0 354.6,988.6 358.6,982.3 362.5,976.0 366.4,969.7 370.2,963.6 373.8,957.6 377.2,951.7 380.4,946.0 383.4,940.5 386.2,935.2 388.7,930.1 390.9,925.2 392.8,920.6 394.4,916.3 395.6,912.3 396.5,908.5 397.0,905.1 397.2,902.0 396.9,899.2 396.3,896.7" fill="var(--pb)" stroke="var(--po)" stroke-width="8.5" stroke-linejoin="round"/>
<polygon points="427.8,989.3 428.1,990.5 428.4,991.8 428.5,993.2 428.6,994.6 428.6,996.1 428.4,997.7 428.2,999.4 427.9,1001.2 427.5,1003.0 427.0,1004.9 426.5,1006.9 425.8,1009.0 425.1,1011.1 424.2,1013.3 423.3,1015.5 422.3,1017.9 421.3,1020.3 420.1,1022.7 418.9,1025.2 417.6,1027.8 416.3,1030.4 414.9,1033.1 413.4,1035.8 411.9,1038.6 410.3,1041.5 408.6,1044.3 406.9,1047.3 405.2,1050.2 403.4,1053.2 401.6,1056.2 399.7,1059.3 397.8,1062.4 395.9,1065.5 394.0,1068.6 392.0,1071.7 390.0,1074.9 388.0,1078.1 386.0,1081.3 384.0,1084.5 381.9,1087.7 414.1,1182.3 416.1,1179.2 418.1,1176.0 420.1,1172.8 422.1,1169.6 424.1,1166.4 426.1,1163.3 428.0,1160.2 430.0,1157.1 431.9,1154.0 433.7,1150.9 435.5,1147.9 437.3,1144.9 439.1,1142.0 440.8,1139.0 442.4,1136.2 444.0,1133.3 445.5,1130.5 447.0,1127.8 448.4,1125.1 449.8,1122.5 451.0,1119.9 452.3,1117.4 453.4,1115.0 454.5,1112.6 455.4,1110.2 456.4,1108.0 457.2,1105.8 457.9,1103.7 458.6,1101.6 459.2,1099.6 459.7,1097.7 460.1,1095.9 460.4,1094.1 460.6,1092.4 460.7,1090.8 460.7,1089.3 460.7,1087.9 460.5,1086.5 460.2,1085.2 459.9,1084.0" fill="var(--pb)" stroke="var(--po)" stroke-width="8.5" stroke-linejoin="round"/>
<polygon points="1072.1,215.9 1071.7,218.5 1071.7,221.4 1072.1,224.5 1072.9,228.0 1074.1,231.7 1075.7,235.7 1077.6,239.9 1079.8,244.4 1082.4,249.1 1085.3,254.1 1088.5,259.2 1092.0,264.5 1095.7,270.0 1099.6,275.7 1103.7,281.5 1107.9,287.4 1112.3,293.3 1116.7,299.4 1121.2,305.5 1125.8,311.6 1130.4,317.7 1134.9,323.8 1139.3,329.8 1143.7,335.8 1148.0,341.7 1152.0,347.5 1155.9,353.1 1159.6,358.6 1163.1,364.0 1166.3,369.1 1169.2,374.1 1171.8,378.8 1174.0,383.3 1176.0,387.5 1177.5,391.5 1178.7,395.2 1179.5,398.7 1179.9,401.8 1179.9,404.7 1179.5,407.3 1155.6,504.4 1156.0,501.8 1156.0,498.9 1155.6,495.8 1154.8,492.3 1153.6,488.6 1152.1,484.6 1150.2,480.4 1147.9,475.9 1145.3,471.2 1142.4,466.2 1139.2,461.1 1135.8,455.8 1132.1,450.3 1128.2,444.6 1124.1,438.8 1119.8,432.9 1115.5,427.0 1111.0,420.9 1106.5,414.8 1101.9,408.7 1097.4,402.6 1092.9,396.5 1088.4,390.5 1084.0,384.5 1079.8,378.6 1075.7,372.8 1071.8,367.2 1068.1,361.7 1064.7,356.3 1061.5,351.2 1058.6,346.2 1056.0,341.5 1053.7,337.0 1051.8,332.8 1050.2,328.8 1049.0,325.1 1048.2,321.6 1047.8,318.5 1047.8,315.6 1048.2,313.0" fill="var(--pb)" stroke="var(--po)" stroke-width="8.5" stroke-linejoin="round"/>
<polygon points="1023.8,412.2 1023.4,414.8 1023.4,417.7 1023.9,420.8 1024.7,424.3 1025.8,428.0 1027.4,432.0 1029.3,436.2 1031.6,440.7 1034.2,445.4 1037.1,450.4 1040.3,455.5 1043.7,460.9 1047.4,466.4 1051.3,472.0 1055.4,477.8 1059.6,483.7 1064.0,489.7 1068.5,495.7 1073.0,501.8 1077.5,507.9 1082.1,514.0 1086.6,520.1 1091.1,526.2 1095.5,532.1 1099.7,538.0 1103.8,543.8 1107.7,549.5 1111.4,555.0 1114.8,560.3 1118.0,565.4 1120.9,570.4 1123.5,575.1 1125.8,579.6 1127.7,583.8 1129.3,587.8 1130.4,591.5 1131.2,595.0 1131.6,598.1 1131.6,601.0 1131.2,603.6 1107.4,700.7 1107.8,698.1 1107.8,695.3 1107.4,692.1 1106.6,688.6 1105.4,684.9 1103.8,680.9 1101.9,676.7 1099.6,672.2 1097.0,667.5 1094.1,662.5 1091.0,657.4 1087.5,652.1 1083.8,646.6 1079.9,640.9 1075.8,635.1 1071.6,629.2 1067.2,623.3 1062.8,617.2 1058.2,611.1 1053.7,605.0 1049.1,598.9 1044.6,592.8 1040.1,586.8 1035.8,580.8 1031.5,574.9 1027.4,569.1 1023.5,563.5 1019.8,558.0 1016.4,552.6 1013.2,547.5 1010.3,542.5 1007.7,537.8 1005.4,533.3 1003.5,529.1 1002.0,525.1 1000.8,521.4 1000.0,517.9 999.6,514.8 999.6,511.9 1000.0,509.3" fill="var(--pb)" stroke="var(--po)" stroke-width="8.5" stroke-linejoin="round"/>
<polygon points="975.6,608.5 975.2,611.1 975.2,614.0 975.6,617.1 976.4,620.6 977.6,624.3 979.1,628.3 981.1,632.5 983.3,637.0 985.9,641.7 988.8,646.7 992.0,651.8 995.5,657.2 999.1,662.7 1003.0,668.3 1007.1,674.1 1011.4,680.0 1015.7,686.0 1020.2,692.0 1024.7,698.1 1029.3,704.2 1033.8,710.3 1038.4,716.4 1042.8,722.5 1047.2,728.4 1051.4,734.3 1055.5,740.1 1059.4,745.8 1063.1,751.3 1066.6,756.6 1069.8,761.7 1072.7,766.7 1075.3,771.4 1077.5,775.9 1079.4,780.1 1081.0,784.1 1082.2,787.8 1083.0,791.3 1083.4,794.4 1083.4,797.3 1083.0,799.9 1059.1,897.0 1059.5,894.4 1059.5,891.6 1059.1,888.4 1058.3,884.9 1057.1,881.2 1055.6,877.2 1053.6,873.0 1051.4,868.5 1048.8,863.8 1045.9,858.8 1042.7,853.7 1039.2,848.4 1035.6,842.9 1031.6,837.2 1027.6,831.4 1023.3,825.5 1019.0,819.6 1014.5,813.5 1010.0,807.4 1005.4,801.3 1000.9,795.2 996.3,789.1 991.9,783.1 987.5,777.1 983.3,771.2 979.2,765.4 975.3,759.8 971.6,754.3 968.1,748.9 964.9,743.8 962.0,738.9 959.4,734.1 957.2,729.6 955.3,725.4 953.7,721.4 952.5,717.7 951.7,714.2 951.3,711.1 951.3,708.2 951.7,705.6" fill="var(--pb)" stroke="var(--po)" stroke-width="8.5" stroke-linejoin="round"/>
<polygon points="927.3,804.8 926.9,807.4 926.9,810.3 927.3,813.4 928.1,816.9 929.3,820.6 930.9,824.6 932.8,828.8 935.1,833.3 937.7,838.0 940.6,843.0 943.7,848.1 947.2,853.5 950.9,859.0 954.8,864.6 958.9,870.4 963.1,876.3 967.5,882.3 971.9,888.3 976.5,894.4 981.0,900.5 985.6,906.6 990.1,912.7 994.6,918.8 998.9,924.7 1003.2,930.6 1007.3,936.4 1011.2,942.1 1014.9,947.6 1018.3,952.9 1021.5,958.0 1024.4,963.0 1027.0,967.7 1029.3,972.2 1031.2,976.4 1032.7,980.4 1033.9,984.1 1034.7,987.6 1035.1,990.8 1035.1,993.6 1034.7,996.2 1010.8,1093.3 1011.3,1090.7 1011.2,1087.9 1010.8,1084.7 1010.0,1081.2 1008.9,1077.5 1007.3,1073.5 1005.4,1069.3 1003.1,1064.8 1000.5,1060.1 997.6,1055.1 994.4,1050.0 991.0,1044.7 987.3,1039.2 983.4,1033.5 979.3,1027.7 975.1,1021.8 970.7,1015.9 966.2,1009.8 961.7,1003.7 957.2,997.6 952.6,991.5 948.1,985.4 943.6,979.4 939.2,973.4 935.0,967.5 930.9,961.7 927.0,956.1 923.3,950.6 919.9,945.2 916.7,940.1 913.8,935.2 911.2,930.4 908.9,925.9 907.0,921.7 905.4,917.7 904.3,914.0 903.5,910.5 903.1,907.4 903.0,904.5 903.5,901.9" fill="var(--pb)" stroke="var(--po)" stroke-width="8.5" stroke-linejoin="round"/>
<polygon points="879.1,1001.1 878.7,1002.9 878.6,1004.8 878.7,1006.9 879.0,1009.1 879.4,1011.4 880.1,1013.9 880.9,1016.5 881.9,1019.3 883.2,1022.1 884.5,1025.1 886.1,1028.3 887.8,1031.5 889.7,1034.8 891.7,1038.3 893.9,1041.8 896.2,1045.5 898.6,1049.2 901.1,1053.0 903.8,1056.9 906.5,1060.9 909.4,1064.9 912.3,1069.0 915.3,1073.2 918.3,1077.4 921.4,1081.6 924.6,1085.8 927.8,1090.1 930.9,1094.4 934.1,1098.7 937.3,1102.9 940.5,1107.2 943.6,1111.4 946.7,1115.7 949.8,1119.9 952.8,1124.0 955.7,1128.1 958.6,1132.1 961.4,1136.1 964.0,1140.0 966.6,1143.9 942.7,1241.0 940.2,1237.1 937.5,1233.2 934.7,1229.3 931.9,1225.2 928.9,1221.1 925.9,1217.0 922.9,1212.8 919.8,1208.6 916.6,1204.3 913.4,1200.0 910.3,1195.8 907.1,1191.5 903.9,1187.2 900.7,1182.9 897.6,1178.7 894.5,1174.5 891.4,1170.3 888.4,1166.1 885.5,1162.1 882.7,1158.0 879.9,1154.1 877.2,1150.2 874.7,1146.3 872.3,1142.6 870.0,1138.9 867.8,1135.4 865.8,1131.9 863.9,1128.6 862.2,1125.4 860.7,1122.2 859.3,1119.3 858.1,1116.4 857.0,1113.6 856.2,1111.0 855.5,1108.5 855.1,1106.2 854.8,1104.0 854.7,1101.9 854.9,1100.0 855.2,1098.2" fill="var(--pb)" stroke="var(--po)" stroke-width="8.5" stroke-linejoin="round"/>
<path d="M95,272 C140,250 200,240 212,215 L215,100 Q220,72 250,72 L340,70 Q365,72 358,100 L330,150 Q330,175 360,180 L455,205 Q478,215 480,262" fill="none" stroke="var(--po)" stroke-width="19" stroke-linecap="round" stroke-linejoin="round"/>
<path d="M95,272 C140,250 200,240 212,215 L215,100 Q220,72 250,72 L340,70 Q365,72 358,100 L330,150 Q330,175 360,180 L455,205 Q478,215 480,262" fill="none" stroke="var(--ph)" stroke-width="6.5" stroke-linecap="round" stroke-linejoin="round"/>
<path d="M398,332 C380,290 365,240 380,218 C395,200 425,210 420,240 C410,290 330,320 322,360 L318,455" fill="none" stroke="var(--po)" stroke-width="19" stroke-linecap="round" stroke-linejoin="round"/>
<path d="M398,332 C380,290 365,240 380,218 C395,200 425,210 420,240 C410,290 330,320 322,360 L318,455" fill="none" stroke="var(--ph)" stroke-width="6.5" stroke-linecap="round" stroke-linejoin="round"/>
<path d="M790,282 C785,230 800,200 860,185 C900,178 912,170 912,150 L915,80 Q918,48 950,48 L1030,48 Q1055,50 1055,80 L1058,190 Q1060,210 1090,215 L1160,235 Q1178,245 1172,285" fill="none" stroke="var(--po)" stroke-width="19" stroke-linecap="round" stroke-linejoin="round"/>
<path d="M790,282 C785,230 800,200 860,185 C900,178 912,170 912,150 L915,80 Q918,48 950,48 L1030,48 Q1055,50 1055,80 L1058,190 Q1060,210 1090,215 L1160,235 Q1178,245 1172,285" fill="none" stroke="var(--ph)" stroke-width="6.5" stroke-linecap="round" stroke-linejoin="round"/>
<path d="M795,245 C830,280 880,300 905,320 C920,335 905,350 880,362" fill="none" stroke="var(--po)" stroke-width="19" stroke-linecap="round" stroke-linejoin="round"/>
<path d="M795,245 C830,280 880,300 905,320 C920,335 905,350 880,362" fill="none" stroke="var(--ph)" stroke-width="6.5" stroke-linecap="round" stroke-linejoin="round"/>
<path d="M900,368 C905,345 935,330 960,345 C975,360 978,400 962,440" fill="none" stroke="var(--po)" stroke-width="19" stroke-linecap="round" stroke-linejoin="round"/>
<path d="M900,368 C905,345 935,330 960,345 C975,360 978,400 962,440" fill="none" stroke="var(--ph)" stroke-width="6.5" stroke-linecap="round" stroke-linejoin="round"/>
<path d="M372,1150 C360,1180 380,1190 410,1185 Q435,1185 438,1210 L440,1290 Q445,1310 470,1308 L550,1296 Q575,1290 575,1260 L578,1180 Q580,1160 600,1150 C610,1130 560,1110 520,1095" fill="none" stroke="var(--po)" stroke-width="19" stroke-linecap="round" stroke-linejoin="round"/>
<path d="M372,1150 C360,1180 380,1190 410,1185 Q435,1185 438,1210 L440,1290 Q445,1310 470,1308 L550,1296 Q575,1290 575,1260 L578,1180 Q580,1160 600,1150 C610,1130 560,1110 520,1095" fill="none" stroke="var(--ph)" stroke-width="6.5" stroke-linecap="round" stroke-linejoin="round"/>
<path d="M505,1090 C510,1110 540,1120 580,1140" fill="none" stroke="var(--po)" stroke-width="19" stroke-linecap="round" stroke-linejoin="round"/>
<path d="M505,1090 C510,1110 540,1120 580,1140" fill="none" stroke="var(--ph)" stroke-width="6.5" stroke-linecap="round" stroke-linejoin="round"/>
<path d="M720,1080 C690,1110 710,1140 750,1170 Q790,1195 770,1220 L755,1240 Q748,1265 780,1278 L860,1305 Q890,1310 905,1290 L925,1235" fill="none" stroke="var(--po)" stroke-width="19" stroke-linecap="round" stroke-linejoin="round"/>
<path d="M720,1080 C690,1110 710,1140 750,1170 Q790,1195 770,1220 L755,1240 Q748,1265 780,1278 L860,1305 Q890,1310 905,1290 L925,1235" fill="none" stroke="var(--ph)" stroke-width="6.5" stroke-linecap="round" stroke-linejoin="round"/>
<path d="M565,680 C575,710 590,730 610,745" fill="none" stroke="var(--po)" stroke-width="19" stroke-linecap="round" stroke-linejoin="round"/>
<path d="M565,680 C575,710 590,730 610,745" fill="none" stroke="var(--ph)" stroke-width="6.5" stroke-linecap="round" stroke-linejoin="round"/>
<path d="M730,690 C720,720 700,745 680,770" fill="none" stroke="var(--po)" stroke-width="19" stroke-linecap="round" stroke-linejoin="round"/>
<path d="M730,690 C720,720 700,745 680,770" fill="none" stroke="var(--ph)" stroke-width="6.5" stroke-linecap="round" stroke-linejoin="round"/>
<polygon points="312.9,459.8 467.9,1095.8 532.1,1080.2 377.1,444.2" fill="var(--ps)" stroke="var(--po)" stroke-width="6.5" stroke-linejoin="round"/>
<line x1="360.5" y1="515.6" x2="484.5" y2="1024.4" stroke="var(--ph)" stroke-width="10" opacity="0.7"/>
<polygon points="367.9,339.7 551.9,1101.7 616.1,1086.3 432.1,324.3" fill="var(--ps)" stroke="var(--po)" stroke-width="6.5" stroke-linejoin="round"/>
<line x1="418.4" y1="408.2" x2="565.6" y2="1017.8" stroke="var(--ph)" stroke-width="10" opacity="0.7"/>
<polygon points="451.7,268.6 541.7,682.6 602.3,669.4 512.3,255.4" fill="var(--ps)" stroke="var(--po)" stroke-width="6.5" stroke-linejoin="round"/>
<line x1="491.0" y1="303.4" x2="563.0" y2="634.6" stroke="var(--ph)" stroke-width="10" opacity="0.7"/>
<polygon points="787.8,265.0 691.8,681.0 752.2,695.0 848.2,279.0" fill="var(--ps)" stroke="var(--po)" stroke-width="6.5" stroke-linejoin="round"/>
<line x1="808.4" y1="313.6" x2="731.6" y2="646.4" stroke="var(--ph)" stroke-width="10" opacity="0.7"/>
<polygon points="857.7,365.0 705.7,1067.0 770.3,1081.0 922.3,379.0" fill="var(--ps)" stroke="var(--po)" stroke-width="6.5" stroke-linejoin="round"/>
<line x1="874.8" y1="442.2" x2="753.2" y2="1003.8" stroke="var(--ph)" stroke-width="10" opacity="0.7"/>
<polygon points="925.6,452.2 796.6,1102.2 855.4,1113.8 984.4,463.8" fill="var(--ps)" stroke="var(--po)" stroke-width="6.5" stroke-linejoin="round"/>
<line x1="942.1" y1="523.0" x2="838.9" y2="1043.0" stroke="var(--ph)" stroke-width="10" opacity="0.7"/>
<circle cx="610" cy="765" r="22" fill="var(--ph)" stroke="var(--po)" stroke-width="6"/>
<circle cx="645" cy="728" r="22" fill="var(--ph)" stroke="var(--po)" stroke-width="6"/>
<circle cx="668" cy="790" r="22" fill="var(--ph)" stroke="var(--po)" stroke-width="6"/>
<circle cx="615" cy="815" r="20" fill="var(--ph)" stroke="var(--po)" stroke-width="6"/>
<circle cx="735" cy="700" r="22" fill="var(--ph)" stroke="var(--po)" stroke-width="6"/>
<circle cx="742" cy="742" r="20" fill="var(--ph)" stroke="var(--po)" stroke-width="6"/>
</symbol>
<use href="#prot" x="710.5" y="389.8" width="136.5" height="152.5" style="--po:#4a6bb5;--pf:#d3ddf2;--pb:#aebfe4;--ps:#c3cfec;--ph:#e6ecf8"/>
<use href="#prot" x="55.3" y="1080.2" width="182.5" height="207.3" style="--po:#4a6bb5;--pf:#d3ddf2;--pb:#aebfe4;--ps:#c3cfec;--ph:#e6ecf8"/>
<use href="#prot" x="434.5" y="1137" width="138" height="152.8" style="--po:#e2ad30;--pf:#f9e6ae;--pb:#f2cf72;--ps:#f6dd96;--ph:#fdf2cc"/>
<use href="#prot" x="629.5" y="1135.6" width="138" height="154.2" style="--po:#d8814f;--pf:#f8dccb;--pb:#efb592;--ps:#f3c8ad;--ph:#fce7da"/>
<use href="#prot" x="809.8" y="1135.6" width="131" height="154.2" style="--po:#4a6bb5;--pf:#d3ddf2;--pb:#aebfe4;--ps:#c3cfec;--ph:#e6ecf8"/>
<use href="#prot" x="1112.7" y="1034.3" width="212.3" height="241.5" style="--po:#4a6bb5;--pf:#d3ddf2;--pb:#aebfe4;--ps:#c3cfec;--ph:#e6ecf8"/>
<use href="#prot" x="1624.7" y="1028.8" width="219.8" height="249.2" style="--po:#4a6bb5;--pf:#d3ddf2;--pb:#aebfe4;--ps:#c3cfec;--ph:#e6ecf8"/>
<circle cx="204.8" cy="1150.8" r="22" fill="#ed7d31"/>
<path d="M255.2,1134 L404.8,1134 L404.8,1228.9 L255.2,1228.9 L255.2,1213.5 L224.8,1190 L255.2,1189.5 Z" fill="none" stroke="#2e75b6" stroke-width="1.6"/>
<path d="M266.4,1115.3 L229,1133.5" stroke="#3a3a3a" stroke-width="1.1"/>
<path d="M236,1126 L228.5,1134 L239,1133" stroke="#3a3a3a" stroke-width="1.1" fill="none"/>
<circle cx="683.25" cy="1014" r="21.4" fill="#a9d18e" stroke="#70ad47" stroke-width="1.3"/>
<circle cx="926.2" cy="1179.3" r="21.6" fill="#a9d18e" stroke="#70ad47" stroke-width="1.3"/>
<path d="M569.7,1055.8 C566.6,1055.7 556.9,1054.4 550.9,1055.2 C544.9,1056.0 539.0,1057.9 533.5,1060.5 C528.0,1063.1 522.4,1067.8 518.0,1071.0 C513.6,1074.2 508.8,1078.5 507.0,1080.0  L504.5,1081.5 L503,1098.9 L521.9,1085.8 L521,1084 C522.8,1082.2 527.5,1076.4 532.0,1073.0 C536.5,1069.6 541.7,1066.2 548.0,1063.5 C554.3,1060.8 566.1,1057.9 569.7,1056.8 Z" fill="#1e1e1e"/>
<path d="M706.8,1045.7 C710.2,1046.2 721.0,1046.3 727.0,1049.0 C733.0,1051.7 738.8,1056.5 743.0,1062.0 C747.2,1067.5 750.5,1078.7 752.0,1082.0  L755.3,1083 L753.2,1097.4 L740.8,1081.5 L743,1081 C741.7,1078.7 738.3,1071.5 735.0,1067.0 C731.7,1062.5 727.7,1057.4 723.0,1054.0 C718.3,1050.6 709.5,1047.8 706.8,1046.5 Z" fill="#1e1e1e"/>
<path d="M857.8,1052.7 C861.3,1053.4 872.8,1054.1 879.0,1057.0 C885.2,1059.9 891.0,1064.7 895.0,1070.0 C899.0,1075.3 901.7,1085.8 903.0,1089.0  L905.8,1089 L902.9,1103.6 L892.7,1090.5 L895,1089 C893.7,1086.7 890.3,1079.3 887.0,1075.0 C883.7,1070.7 879.9,1066.6 875.0,1063.0 C870.1,1059.4 860.7,1055.1 857.8,1053.5 Z" fill="#1e1e1e"/>
<path d="M529.5,1043.0 L558.5,1072.0 M558.5,1043.0 L529.5,1072.0" stroke="#ff0000" stroke-width="7.5" stroke-linecap="butt"/>
<path d="M714.5,1046.7 L742.5,1074.7 M742.5,1046.7 L714.5,1074.7" stroke="#ff0000" stroke-width="7.5" stroke-linecap="butt"/>
<rect x="664.5" y="1333.3" width="110" height="34.7" fill="none" stroke="#333" stroke-width="1.3"/>
<path d="M1292,1176 L1331,1146 L1343,1108 M1331,1148 L1369,1153.5" stroke="#fef3d2" stroke-width="34" stroke-linejoin="round" stroke-linecap="round" fill="none" filter="url(#blur1)"/>
<path d="M1292,1176 L1331,1146 L1343,1108 M1331,1148 L1369,1153.5" stroke="#fde9ad" stroke-width="25" stroke-linejoin="round" stroke-linecap="round" fill="none"/>
<path d="M1289.5,1171.2 L1328.9,1142.5 L1348.4,1109.9 M1322.1,1137 L1337.6,1107.1 M1294.7,1181.5 L1333.7,1150.5 L1368.7,1147.3 M1336,1162.4 L1367.1,1160" stroke="#f7b500" stroke-width="6" stroke-linejoin="round" stroke-linecap="butt" fill="none"/>
<path d="M1307,1233.4 C1310.5,1229.7 1320.5,1216.7 1328.0,1211.0 C1335.5,1205.3 1343.7,1201.3 1352.0,1199.0 C1360.3,1196.7 1370.0,1196.2 1378.0,1197.0 C1386.0,1197.8 1396.3,1202.8 1400.0,1204.0  L1413.6,1200.2 L1429.3,1241.2 L1391.2,1231.5 L1389,1223 C1385.5,1221.5 1375.3,1215.5 1368.0,1214.0 C1360.7,1212.5 1352.2,1212.8 1345.0,1214.0 C1337.8,1215.2 1331.3,1217.8 1325.0,1221.0 C1318.7,1224.2 1310.0,1231.3 1307.0,1233.4 Z" fill="#1e1e1e"/>
<path d="M1347.7,1183.6 L1389.7,1222.6 M1389.7,1183.6 L1347.7,1222.6" stroke="#ff0000" stroke-width="12" stroke-linecap="butt"/>
<path d="M1800.0,1086.0 C1802.0,1084.3 1810.3,1083.0 1815.0,1084.0 C1819.7,1085.0 1824.8,1088.0 1828.0,1092.0 C1831.2,1096.0 1833.0,1102.5 1834.0,1108.0 C1835.0,1113.5 1835.0,1120.5 1834.0,1125.0 C1833.0,1129.5 1830.3,1132.3 1828.0,1135.0 C1825.7,1137.7 1822.3,1141.3 1820.0,1141.0 C1817.7,1140.7 1816.0,1133.0 1814.0,1133.0 C1812.0,1133.0 1811.2,1140.2 1808.0,1141.0 C1804.8,1141.8 1798.0,1140.7 1795.0,1138.0 C1792.0,1135.3 1790.8,1129.7 1790.0,1125.0 C1789.2,1120.3 1788.3,1113.2 1790.0,1110.0 C1791.7,1106.8 1797.3,1107.7 1800.0,1106.0 C1802.7,1104.3 1805.5,1102.0 1806.0,1100.0 C1806.5,1098.0 1804.0,1096.3 1803.0,1094.0 C1802.0,1091.7 1798.0,1087.7 1800.0,1086.0 Z" fill="#a8cc94"/>
<ellipse cx="1804.5" cy="1105" rx="5" ry="8" fill="#fff"/>
<path d="M1792.0,1165.0 C1794.8,1163.5 1803.3,1161.8 1808.0,1163.0 C1812.7,1164.2 1817.5,1167.5 1820.0,1172.0 C1822.5,1176.5 1822.7,1184.5 1823.0,1190.0 C1823.3,1195.5 1823.3,1200.8 1822.0,1205.0 C1820.7,1209.2 1817.3,1212.5 1815.0,1215.0 C1812.7,1217.5 1810.0,1220.3 1808.0,1220.0 C1806.0,1219.7 1805.2,1213.3 1803.0,1213.0 C1800.8,1212.7 1798.3,1218.5 1795.0,1218.0 C1791.7,1217.5 1785.7,1213.8 1783.0,1210.0 C1780.3,1206.2 1779.3,1200.0 1779.0,1195.0 C1778.7,1190.0 1779.2,1182.2 1781.0,1180.0 C1782.8,1177.8 1787.5,1182.0 1790.0,1182.0 C1792.5,1182.0 1795.8,1181.7 1796.0,1180.0 C1796.2,1178.3 1791.7,1174.5 1791.0,1172.0 C1790.3,1169.5 1789.2,1166.5 1792.0,1165.0 Z" fill="#7b87e0"/>
<ellipse cx="1795" cy="1182" rx="4.5" ry="7" fill="#b9c6e6"/>
<path d="M1886.4,1051.2 C1885,1068 1870,1080 1848,1083.5" stroke="#4b9a2c" stroke-width="2" fill="none"/>
<path d="M1852,1077 L1843.5,1084 L1853,1090" fill="#4b9a2c"/>
<path d="M1867.8,1168.7 C1866,1185 1855,1198 1831,1201" stroke="#1a1a1a" stroke-width="2" fill="none"/>
<path d="M1836,1194.5 L1827.5,1201.4 L1836,1207" stroke="#1a1a1a" stroke-width="2" fill="none"/>
<g transform="matrix(-0.62 0 0 0.578 2364.44 993.24)">
<clipPath id="kneeclip2"><path d="M1451.7,345.6 L1482.9,362.1 L1474.0,376.0 L1464.0,393.0 L1456.0,410.0 L1452.0,422.0 L1456.0,436.0 L1458.0,448.0 L1452.0,459.0 L1440.0,466.0 L1420.0,466.0 L1405.0,458.0 L1392.0,444.0 L1392.0,425.0 L1402.0,408.0 L1416.0,393.0 L1428.0,380.0 L1440.0,361.0Z M1400.0,462.0 L1440.0,462.0 L1462.0,468.0 L1473.0,478.0 L1471.0,500.0 L1478.0,525.0 L1485.0,554.0 L1452.0,554.0 L1428.0,520.0 L1415.0,498.0 L1404.0,480.0Z M1472.0,476.0 L1482.0,480.0 L1490.0,502.0 L1508.0,550.0 L1502.0,554.0 L1484.0,515.0 L1474.0,496.0Z"/></clipPath>
<path d="M1472.0,476.0 L1482.0,480.0 L1490.0,502.0 L1508.0,550.0 L1502.0,554.0 L1484.0,515.0 L1474.0,496.0Z" fill="#e6d3ae" stroke="#dcc59c" stroke-width="1"/>
<path d="M1400.0,462.0 L1440.0,462.0 L1462.0,468.0 L1473.0,478.0 L1471.0,500.0 L1478.0,525.0 L1485.0,554.0 L1452.0,554.0 L1428.0,520.0 L1415.0,498.0 L1404.0,480.0Z" fill="#e8d6b2" stroke="#dcc59c" stroke-width="1" stroke-linejoin="round"/>
<path d="M1451.7,345.6 L1482.9,362.1 L1474.0,376.0 L1464.0,393.0 L1456.0,410.0 L1452.0,422.0 L1456.0,436.0 L1458.0,448.0 L1452.0,459.0 L1440.0,466.0 L1420.0,466.0 L1405.0,458.0 L1392.0,444.0 L1392.0,425.0 L1402.0,408.0 L1416.0,393.0 L1428.0,380.0 L1440.0,361.0Z" fill="#e9d8b5" stroke="#dcc59c" stroke-width="1" stroke-linejoin="round"/>
<g clip-path="url(#kneeclip2)">
<path d="M1462,352 L1482.9,362.1 L1474,376 L1464,393 L1456,410 L1452,422 L1446,412 L1452,390 Z" fill="#f1e6cd"/>
<path d="M1427,392 C1428,408 1440,420 1452,425" stroke="#d6bf94" stroke-width="2.5" fill="none"/>
<ellipse cx="1425" cy="470" rx="34" ry="46" fill="#eeaa9c" opacity="0.45" filter="url(#blur3)" transform="rotate(-20 1425 470)"/>
<path d="M1433,500 L1462,554" stroke="#d6bf95" stroke-width="2" fill="none"/>
</g>
<ellipse cx="1396" cy="447" rx="9.5" ry="21" fill="#e8c4ad" stroke="#d9b59c" stroke-width="1" transform="rotate(-15 1396 447)"/>
<path d="M1404,404 C1398,425 1402,445 1415,458 C1430,466 1448,466 1462,468" stroke="#cbbccc" stroke-width="1.5" fill="none"/>
<path d="M1468,478 C1460,495 1465,505 1474,512" stroke="#cbbccc" stroke-width="1.2" fill="none"/>
<ellipse cx="1420" cy="462" rx="24" ry="32" fill="url(#redglow)" transform="rotate(-25 1420 462)"/>
</g>
<text x="24.65" y="52.40" font-size="42.15" font-weight="bold" fill="#000" textLength="443.96" lengthAdjust="spacingAndGlyphs" >PAD-Driven Citrullination:</text>
<text x="26.66" y="109.00" font-size="42.15" font-weight="bold" fill="#000" textLength="606.30" lengthAdjust="spacingAndGlyphs" >The Core of ACPA and NETosis in RA</text>
<text x="250.97" y="218.50" font-size="26.45" font-weight="bold" fill="#000" textLength="80.18" lengthAdjust="spacingAndGlyphs" >NETosis</text>
<text x="716.52" y="211.40" font-size="26.45" font-weight="bold" fill="#000" textLength="135.42" lengthAdjust="spacingAndGlyphs" >Citrullination</text>
<text x="1147.57" y="211.40" font-size="26.45" font-weight="bold" fill="#000" textLength="176.16" lengthAdjust="spacingAndGlyphs" >ACPA Production</text>
<text x="1605.56" y="208.80" font-size="26.45" font-weight="bold" fill="#000" textLength="175.54" lengthAdjust="spacingAndGlyphs" >RA Inflammation</text>
<text x="252.52" y="291.00" font-size="30.23" font-weight="normal" fill="#000" textLength="279.16" lengthAdjust="spacingAndGlyphs" >Neutrophil extracellular</text>
<text x="254.02" y="330.20" font-size="30.23" font-weight="normal" fill="#000" textLength="141.14" lengthAdjust="spacingAndGlyphs" >traps (NETs)</text>
<text x="75.05" y="392.50" font-size="30.52" font-weight="normal" fill="#000" textLength="128.17" lengthAdjust="spacingAndGlyphs" >Neutrophil</text>
<text x="425.16" y="562.30" font-size="30.23" font-weight="normal" fill="#000" textLength="64.68" lengthAdjust="spacingAndGlyphs" >PAD4</text>
<text x="260.14" y="605.80" font-size="17.88" font-weight="normal" fill="#000" textLength="208.62" lengthAdjust="spacingAndGlyphs" >Fibrinogen, Vimentin, PAD4</text>
<text x="632.22" y="452.30" font-size="17.44" font-weight="bold" fill="#2f5fae" textLength="64.73" lengthAdjust="spacingAndGlyphs" >Peptidyl</text>
<text x="632.35" y="478.70" font-size="17.44" font-weight="bold" fill="#2f5fae" textLength="74.14" lengthAdjust="spacingAndGlyphs" >Aarginine</text>
<text x="632.20" y="503.30" font-size="17.44" font-weight="bold" fill="#2f5fae" textLength="76.96" lengthAdjust="spacingAndGlyphs" >(+ charge)</text>
<text x="862.02" y="452.30" font-size="17.44" font-weight="bold" fill="#e0185a" textLength="64.41" lengthAdjust="spacingAndGlyphs" >Peptidyl</text>
<text x="862.45" y="478.70" font-size="17.44" font-weight="bold" fill="#e0185a" textLength="70.17" lengthAdjust="spacingAndGlyphs" >Citrulline</text>
<text x="862.16" y="503.30" font-size="17.44" font-weight="bold" fill="#e0185a" textLength="67.28" lengthAdjust="spacingAndGlyphs" >(neutral)</text>
<ellipse cx="781" cy="480.4" rx="26.8" ry="30.6" fill="#6cab3f"/>
<text x="763.08" y="485.50" font-size="19.77" font-weight="bold" fill="#000" textLength="37.72" lengthAdjust="spacingAndGlyphs" >Ca2+</text>
<text x="730.35" y="567.00" font-size="18.46" font-weight="bold" fill="#000" textLength="106.12" lengthAdjust="spacingAndGlyphs" >PAD4 enzyme</text>
<text x="1063.11" y="355.00" font-size="18.17" font-weight="normal" fill="#000" textLength="64.16" lengthAdjust="spacingAndGlyphs" >Antigen-</text>
<text x="1062.18" y="379.75" font-size="18.17" font-weight="normal" fill="#000" textLength="82.70" lengthAdjust="spacingAndGlyphs" >Presensing</text>
<text x="1062.72" y="405.25" font-size="18.17" font-weight="normal" fill="#000" textLength="73.76" lengthAdjust="spacingAndGlyphs" >Cell (APC)</text>
<text x="1279.67" y="335.50" font-size="17.88" font-weight="normal" fill="#000" textLength="40.61" lengthAdjust="spacingAndGlyphs" >B cell</text>
<text x="1214.93" y="616.00" font-size="18.90" font-weight="normal" fill="#dc1a2e" textLength="49.36" lengthAdjust="spacingAndGlyphs" >ACPAS</text>
<text x="1172.53" y="642.00" font-size="18.90" font-weight="normal" fill="#d6245e" textLength="133.08" lengthAdjust="spacingAndGlyphs" >(Anti-Citrulinated</text>
<text x="1166.45" y="667.00" font-size="18.90" font-weight="normal" fill="#d6245e" textLength="145.66" lengthAdjust="spacingAndGlyphs" >protein antibodies)</text>
<text x="1357.62" y="589.00" font-size="18.90" font-weight="normal" fill="#a81c1c" textLength="169.15" lengthAdjust="spacingAndGlyphs" >Synovial inflammation</text>
<text x="27.31" y="873.00" font-size="50.29" font-weight="bold" fill="#000" textLength="356.45" lengthAdjust="spacingAndGlyphs" >Enzyme Inhibitors</text>
<text x="39.38" y="942.00" font-size="27.62" font-weight="bold" fill="#000" textLength="239.31" lengthAdjust="spacingAndGlyphs" >1.Pan-PAD Inhibtors</text>
<text x="557.13" y="939.30" font-size="29.07" font-weight="bold" fill="#000" textLength="241.51" lengthAdjust="spacingAndGlyphs" >2. Isozyme-Selective</text>
<text x="557.14" y="973.50" font-size="29.07" font-weight="bold" fill="#000" textLength="112.55" lengthAdjust="spacingAndGlyphs" >Inhibitors</text>
<text x="1081.78" y="931.00" font-size="29.07" font-weight="bold" fill="#000" textLength="287.22" lengthAdjust="spacingAndGlyphs" >3. Biologics / Antibodies</text>
<text x="1588.03" y="931.00" font-size="29.07" font-weight="bold" fill="#000" textLength="363.32" lengthAdjust="spacingAndGlyphs" >4. Novel Inhibitor Development</text>
<text x="117.51" y="1078.70" font-size="19.77" font-weight="normal" fill="#000" textLength="40.97" lengthAdjust="spacingAndGlyphs" >PAD1</text>
<text x="181.57" y="1078.70" font-size="19.77" font-weight="normal" fill="#000" textLength="9.57" lengthAdjust="spacingAndGlyphs" >4</text>
<path d="M159.3,1072.4 L175.9,1072.4 M172,1068.8 L175.9,1072.4 L172,1076" stroke="#000" stroke-width="1.2" fill="none"/>
<text x="233.29" y="1097.70" font-size="13.52" font-weight="bold" fill="#f2b632" textLength="63.18" lengthAdjust="spacingAndGlyphs" >Active Site</text>
<text x="271.74" y="1122.30" font-size="18.90" font-weight="bold" fill="#000" textLength="25.49" lengthAdjust="spacingAndGlyphs" >Cl-</text>
<text x="271.94" y="1147.90" font-size="18.50" font-weight="bold" fill="#000" textLength="69.98" lengthAdjust="spacingAndGlyphs" >amidine</text>
<text x="264.25" y="1163.90" font-size="17.44" font-weight="normal" fill="#000" textLength="76.84" lengthAdjust="spacingAndGlyphs" >Efficacy in</text>
<text x="264.47" y="1189.20" font-size="17.44" font-weight="normal" fill="#000" textLength="89.69" lengthAdjust="spacingAndGlyphs" >models, but</text>
<text x="264.51" y="1214.80" font-size="17.44" font-weight="normal" fill="#000" textLength="115.89" lengthAdjust="spacingAndGlyphs" >lacks specificity</text>
<text x="713.98" y="1020.75" font-size="18.90" font-weight="normal" fill="#000" textLength="58.48" lengthAdjust="spacingAndGlyphs" >GSK199</text>
<text x="488.69" y="1312.50" font-size="18.90" font-weight="normal" fill="#000" textLength="41.60" lengthAdjust="spacingAndGlyphs" >PAD1</text>
<text x="684.44" y="1310.75" font-size="18.90" font-weight="normal" fill="#000" textLength="41.42" lengthAdjust="spacingAndGlyphs" >PAD2</text>
<text x="858.68" y="1308.75" font-size="18.90" font-weight="normal" fill="#000" textLength="41.87" lengthAdjust="spacingAndGlyphs" >PAD4</text>
<text x="671.94" y="1358.00" font-size="21.80" font-weight="bold" fill="#000" textLength="91.95" lengthAdjust="spacingAndGlyphs" >Selectivity</text>
<text x="1344.53" y="1083.40" font-size="22.38" font-weight="bold" fill="#000" textLength="79.73" lengthAdjust="spacingAndGlyphs" >AZD1163</text>
<text x="1413.98" y="1189.00" font-size="22.38" font-weight="bold" fill="#000" textLength="145.77" lengthAdjust="spacingAndGlyphs" >Inhibits function</text>
<text x="1362.87" y="1336.85" font-size="19.99" font-weight="normal" fill="#a81c1c" textLength="169.20" lengthAdjust="spacingAndGlyphs" >Synovial inflammation</text>
<text x="1888.89" y="1040.10" font-size="14.24" font-weight="bold" fill="#3b7d23" textLength="63.18" lengthAdjust="spacingAndGlyphs" >Active Site</text>
<text x="1846.53" y="1159.50" font-size="21.51" font-weight="bold" fill="#000" textLength="124.10" lengthAdjust="spacingAndGlyphs" >Allosteric Site</text>
</svg>
</body></html>
